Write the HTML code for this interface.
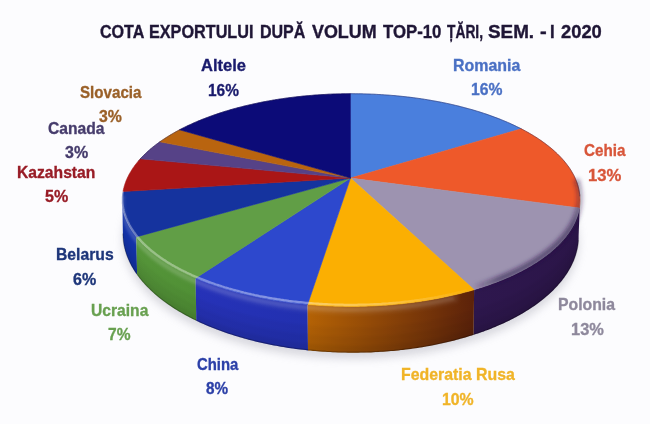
<!DOCTYPE html>
<html><head><meta charset="utf-8"><style>
html,body{margin:0;padding:0;}
body{width:650px;height:424px;overflow:hidden;background:#fcfcfe;position:relative;font-family:"Liberation Sans",sans-serif;}
svg{position:absolute;left:0;top:0;}
#w{position:absolute;left:0;top:0;width:650px;height:424px;filter:blur(0.35px);}
.ti{color:#1f1636;}
.t{position:absolute;-webkit-text-stroke:0.8px currentColor;font-weight:bold;font-size:40px;line-height:1;white-space:nowrap;transform-origin:0 0;}
</style></head><body>
<div id="w">
<svg width="650" height="424" viewBox="0 0 650 424">
<defs><filter id="bl" x="-20%" y="-20%" width="140%" height="140%"><feGaussianBlur stdDeviation="4"/></filter>
<linearGradient id="gCehia" x1="0" y1="0" x2="1" y2="0"><stop offset="0" stop-color="#c04018"/><stop offset="1" stop-color="#a03010"/></linearGradient>
<linearGradient id="gPolonia" x1="0" y1="0" x2="1" y2="0"><stop offset="0" stop-color="#2e174e"/><stop offset="1" stop-color="#2b1548"/></linearGradient>
<linearGradient id="gRusa" x1="0" y1="0" x2="1" y2="0"><stop offset="0" stop-color="#b46205"/><stop offset="1" stop-color="#5c220a"/></linearGradient>
<linearGradient id="gChina" x1="0" y1="0" x2="1" y2="0"><stop offset="0" stop-color="#2632b8"/><stop offset="1" stop-color="#2230b0"/></linearGradient>
<linearGradient id="gUcraina" x1="0" y1="0" x2="1" y2="0"><stop offset="0" stop-color="#559539"/><stop offset="1" stop-color="#509035"/></linearGradient>
<linearGradient id="gBelarus" x1="0" y1="0" x2="1" y2="0"><stop offset="0" stop-color="#1232a8"/><stop offset="1" stop-color="#1232a8"/></linearGradient>
<linearGradient id="gKazah" x1="0" y1="0" x2="1" y2="0"><stop offset="0" stop-color="#901010"/><stop offset="1" stop-color="#901010"/></linearGradient>
<linearGradient id="vsh" x1="0" y1="0" x2="0" y2="1"><stop offset="0" stop-color="#fff" stop-opacity="0.18"/><stop offset="0.25" stop-color="#fff" stop-opacity="0"/><stop offset="1" stop-color="#000" stop-opacity="0.08"/></linearGradient>
<linearGradient id="rimg" gradientUnits="userSpaceOnUse" x1="120" y1="0" x2="480" y2="0"><stop offset="0" stop-color="#fff" stop-opacity="0.32"/><stop offset="0.45" stop-color="#fff" stop-opacity="0.42"/><stop offset="0.72" stop-color="#fff" stop-opacity="0.28"/><stop offset="1" stop-color="#fff" stop-opacity="0"/></linearGradient>
<filter id="b06"><feGaussianBlur stdDeviation="0.6"/></filter><filter id="b1"><feGaussianBlur stdDeviation="1"/></filter><filter id="b15"><feGaussianBlur stdDeviation="1.5"/></filter>
<filter id="b2" x="-10%" y="-10%" width="120%" height="120%"><feGaussianBlur stdDeviation="2"/></filter>
<linearGradient id="dkg" gradientUnits="userSpaceOnUse" x1="470" y1="0" x2="585" y2="0"><stop offset="0" stop-color="#2a1446" stop-opacity="0"/><stop offset="0.25" stop-color="#2a1446" stop-opacity="0.6"/><stop offset="0.9" stop-color="#2a1446" stop-opacity="0.6"/><stop offset="1" stop-color="#2a1446" stop-opacity="0.2"/></linearGradient>
</defs>
<polygon points="573.7,217.8 575.2,221.8 576.4,225.8 577.4,229.9 578.1,234.0 578.5,238.2 578.6,242.3 578.5,246.6 578.0,250.8 577.3,255.1 576.2,259.4 574.8,263.7 573.1,268.0 571.1,272.2 568.8,276.5 566.1,280.7 563.1,285.0 559.7,289.1 556.0,293.3 552.0,297.4 547.6,301.4 542.9,305.3 537.9,309.2 532.5,313.0 526.8,316.7 520.8,320.3 514.5,323.8 507.9,327.1 500.9,330.4 493.7,333.5 486.2,336.4 478.4,339.2 470.4,341.8 462.1,344.3 453.6,346.6 444.9,348.7 436.0,350.6 426.9,352.4 417.7,353.9 408.3,355.2 398.8,356.3 389.2,357.2 379.5,357.9 369.7,358.4 360.0,358.7 350.1,358.7 340.3,358.5 330.6,358.1 320.8,357.5 311.1,356.7 301.5,355.6 292.1,354.4 282.7,352.9 273.5,351.3 264.5,349.4 255.6,347.4 246.9,345.2 238.5,342.8 230.3,340.2 222.3,337.5 214.6,334.6 207.1,331.6 199.9,328.4 193.1,325.1 186.5,321.6 180.2,318.1 174.2,314.4 168.6,310.7 163.3,306.8 158.3,302.9 153.6,298.9 149.3,294.9 145.3,290.8 141.7,286.6 138.3,282.4 135.4,278.2 132.7,273.9 130.4,269.7 128.4,265.4 126.7,261.1 125.3,256.8 124.3,252.5 123.5,248.3 123.1,244.1 122.9,239.9 123.0,235.7 123.5,231.6 124.1,227.5 125.1,223.4 126.3,219.4 127.8,215.5 350.5,238.1" fill="#c8c8d0" filter="url(#bl)" opacity="0.7"/>
<polygon points="136.3,236.9 135.5,235.9 134.8,234.9 134.1,233.9 133.4,232.9 132.7,231.9 132.0,231.0 131.4,230.0 130.8,229.0 130.2,228.0 129.6,227.0 129.1,226.0 128.6,225.0 128.1,224.0 127.6,223.0 127.1,222.0 126.7,221.0 126.3,220.0 125.9,219.0 125.5,218.0 125.1,217.0 124.8,216.0 124.5,215.0 124.2,214.0 123.9,213.1 123.7,212.1 123.5,211.1 123.2,210.1 123.1,209.1 122.9,208.1 122.7,207.1 122.6,206.1 122.5,205.1 122.4,204.2 122.3,203.2 122.3,202.2 122.3,201.2 122.3,200.2 122.9,234.0 122.9,235.1 123.0,236.2 123.0,237.3 123.1,238.3 123.2,239.4 123.3,240.5 123.4,241.6 123.6,242.7 123.7,243.8 123.9,244.9 124.1,246.0 124.4,247.1 124.6,248.2 124.9,249.3 125.2,250.4 125.5,251.5 125.9,252.6 126.2,253.7 126.6,254.8 127.0,255.9 127.4,257.0 127.8,258.1 128.3,259.2 128.8,260.3 129.3,261.4 129.8,262.5 130.4,263.7 130.9,264.8 131.5,265.9 132.1,267.0 132.8,268.1 133.4,269.2 134.1,270.3 134.8,271.4 135.5,272.4 136.3,273.5 137.1,274.6" fill="url(#gBelarus)"/>
<polygon points="580.0,199.9 580.0,200.9 579.9,201.8 579.9,202.8 579.8,203.8 579.7,204.8 579.6,205.7 579.5,206.7 579.4,207.7 579.2,208.7 579.0,209.7 578.8,210.6 578.6,211.6 578.3,212.6 578.1,213.6 577.8,214.6 577.5,215.6 577.2,216.6 576.8,217.5 576.4,218.5 576.0,219.5 575.6,220.5 575.2,221.5 574.8,222.5 574.3,223.5 573.8,224.4 573.3,225.4 572.7,226.4 572.2,227.4 571.6,228.4 571.0,229.4 570.4,230.4 569.8,231.3 569.1,232.3 568.4,233.3 567.7,234.3 567.0,235.2 566.2,236.2 565.4,237.2 564.7,238.2 563.8,239.1 563.0,240.1 562.1,241.1 561.3,242.0 560.4,243.0 559.4,243.9 558.5,244.9 557.5,245.9 556.5,246.8 555.5,247.8 554.5,248.7 553.4,249.6 552.4,250.6 551.3,251.5 550.1,252.4 549.0,253.4 547.8,254.3 546.6,255.2 545.4,256.1 544.2,257.0 542.9,257.9 541.7,258.8 540.4,259.7 539.1,260.6 537.7,261.5 536.4,262.4 535.0,263.3 533.6,264.1 532.2,265.0 530.7,265.9 529.2,266.7 527.8,267.6 526.3,268.4 524.7,269.2 523.2,270.1 521.6,270.9 520.0,271.7 518.4,272.5 516.8,273.3 515.1,274.1 513.5,274.9 511.8,275.7 510.1,276.5 508.3,277.2 506.6,278.0 504.8,278.7 503.0,279.5 501.2,280.2 499.4,281.0 497.6,281.7 495.7,282.4 493.8,283.1 491.9,283.8 490.0,284.5 488.1,285.2 486.1,285.8 484.1,286.5 482.2,287.2 480.2,287.8 478.1,288.4 476.1,289.1 474.1,289.7 473.6,334.8 475.7,334.1 477.7,333.5 479.7,332.8 481.7,332.1 483.7,331.4 485.6,330.6 487.6,329.9 489.5,329.2 491.4,328.4 493.3,327.6 495.1,326.9 497.0,326.1 498.8,325.3 500.6,324.5 502.4,323.7 504.2,322.9 506.0,322.1 507.7,321.2 509.4,320.4 511.1,319.5 512.8,318.7 514.5,317.8 516.1,316.9 517.7,316.0 519.3,315.2 520.9,314.3 522.4,313.4 524.0,312.4 525.5,311.5 527.0,310.6 528.5,309.7 529.9,308.7 531.4,307.8 532.8,306.8 534.2,305.9 535.5,304.9 536.9,303.9 538.2,303.0 539.5,302.0 540.8,301.0 542.1,300.0 543.3,299.0 544.5,298.0 545.7,297.0 546.9,296.0 548.1,295.0 549.2,294.0 550.3,293.0 551.4,291.9 552.5,290.9 553.5,289.9 554.5,288.8 555.5,287.8 556.5,286.7 557.5,285.7 558.4,284.6 559.3,283.6 560.2,282.5 561.1,281.5 562.0,280.4 562.8,279.3 563.6,278.3 564.4,277.2 565.1,276.1 565.9,275.0 566.6,274.0 567.3,272.9 568.0,271.8 568.6,270.7 569.3,269.6 569.9,268.6 570.5,267.5 571.0,266.4 571.6,265.3 572.1,264.2 572.6,263.1 573.1,262.0 573.6,260.9 574.0,259.9 574.4,258.8 574.8,257.7 575.2,256.6 575.6,255.5 575.9,254.4 576.2,253.3 576.5,252.2 576.8,251.1 577.1,250.0 577.3,249.0 577.5,247.9 577.7,246.8 577.9,245.7 578.1,244.6 578.2,243.5 578.3,242.4 578.4,241.4 578.5,240.3 578.6,239.2 578.6,238.1 578.6,237.1 578.6,236.0" fill="url(#gPolonia)"/>
<polygon points="195.6,278.2 193.8,277.4 192.1,276.6 190.3,275.9 188.6,275.1 186.9,274.3 185.3,273.5 183.6,272.6 182.0,271.8 180.4,271.0 178.8,270.2 177.2,269.3 175.7,268.5 174.2,267.6 172.7,266.8 171.2,265.9 169.7,265.0 168.3,264.2 166.9,263.3 165.5,262.4 164.1,261.5 162.8,260.6 161.4,259.7 160.1,258.8 158.8,257.9 157.6,257.0 156.3,256.0 155.1,255.1 153.9,254.2 152.8,253.2 151.6,252.3 150.5,251.4 149.4,250.4 148.3,249.5 147.2,248.5 146.2,247.6 145.2,246.6 144.2,245.6 143.2,244.7 142.3,243.7 141.4,242.7 140.5,241.8 139.6,240.8 138.7,239.8 137.9,238.8 137.1,237.9 136.3,236.9 137.1,274.6 137.8,275.7 138.7,276.8 139.5,277.9 140.4,279.0 141.2,280.1 142.1,281.2 143.1,282.2 144.0,283.3 145.0,284.4 146.0,285.5 147.0,286.5 148.0,287.6 149.1,288.6 150.2,289.7 151.3,290.7 152.4,291.8 153.5,292.8 154.7,293.9 155.9,294.9 157.1,295.9 158.4,297.0 159.6,298.0 160.9,299.0 162.2,300.0 163.5,301.0 164.9,302.0 166.2,303.0 167.6,304.0 169.0,305.0 170.5,306.0 171.9,306.9 173.4,307.9 174.9,308.9 176.4,309.8 178.0,310.8 179.5,311.7 181.1,312.6 182.7,313.6 184.4,314.5 186.0,315.4 187.7,316.3 189.4,317.2 191.1,318.1 192.8,318.9 194.6,319.8 196.3,320.7" fill="url(#gUcraina)"/>
<polygon points="307.6,304.5 305.1,304.3 302.7,304.0 300.2,303.8 297.7,303.5 295.3,303.2 292.8,302.9 290.3,302.6 287.9,302.3 285.5,302.0 283.1,301.6 280.7,301.3 278.3,300.9 275.9,300.5 273.5,300.2 271.1,299.8 268.8,299.3 266.4,298.9 264.1,298.5 261.8,298.0 259.5,297.6 257.2,297.1 254.9,296.6 252.6,296.1 250.4,295.6 248.1,295.1 245.9,294.6 243.7,294.0 241.5,293.5 239.3,292.9 237.1,292.4 235.0,291.8 232.9,291.2 230.7,290.6 228.6,290.0 226.5,289.4 224.5,288.7 222.4,288.1 220.4,287.4 218.4,286.8 216.4,286.1 214.4,285.4 212.4,284.8 210.5,284.1 208.6,283.4 206.6,282.6 204.8,281.9 202.9,281.2 201.0,280.5 199.2,279.7 197.4,279.0 195.6,278.2 196.3,320.7 198.1,321.5 199.9,322.4 201.7,323.2 203.6,324.0 205.5,324.9 207.3,325.7 209.2,326.5 211.2,327.2 213.1,328.0 215.1,328.8 217.0,329.6 219.0,330.3 221.1,331.0 223.1,331.8 225.1,332.5 227.2,333.2 229.3,333.9 231.4,334.6 233.5,335.3 235.6,335.9 237.8,336.6 239.9,337.2 242.1,337.8 244.3,338.5 246.5,339.1 248.7,339.7 250.9,340.2 253.2,340.8 255.4,341.4 257.7,341.9 260.0,342.5 262.3,343.0 264.6,343.5 266.9,344.0 269.3,344.5 271.6,344.9 274.0,345.4 276.4,345.8 278.7,346.3 281.1,346.7 283.5,347.1 285.9,347.5 288.4,347.9 290.8,348.2 293.2,348.6 295.7,348.9 298.1,349.2 300.6,349.5 303.1,349.8 305.5,350.1 308.0,350.4" fill="url(#gChina)"/>
<polygon points="474.1,289.7 472.0,290.3 469.9,290.9 467.7,291.5 465.6,292.1 463.5,292.6 461.3,293.2 459.1,293.8 456.9,294.3 454.7,294.8 452.5,295.3 450.2,295.8 448.0,296.3 445.7,296.8 443.4,297.3 441.1,297.8 438.8,298.2 436.5,298.7 434.2,299.1 431.9,299.5 429.5,299.9 427.1,300.3 424.8,300.7 422.4,301.1 420.0,301.4 417.6,301.8 415.2,302.1 412.8,302.4 410.3,302.7 407.9,303.0 405.5,303.3 403.0,303.6 400.5,303.9 398.1,304.1 395.6,304.3 393.1,304.6 390.6,304.8 388.2,305.0 385.7,305.2 383.2,305.3 380.6,305.5 378.1,305.6 375.6,305.8 373.1,305.9 370.6,306.0 368.1,306.1 365.5,306.2 363.0,306.3 360.5,306.3 358.0,306.4 355.4,306.4 352.9,306.4 350.4,306.4 347.8,306.4 345.3,306.4 342.8,306.3 340.2,306.3 337.7,306.2 335.2,306.2 332.7,306.1 330.1,306.0 327.6,305.9 325.1,305.7 322.6,305.6 320.1,305.4 317.6,305.3 315.1,305.1 312.6,304.9 310.1,304.7 307.6,304.5 308.0,350.4 310.5,350.6 313.0,350.9 315.4,351.1 317.9,351.3 320.4,351.5 322.9,351.7 325.4,351.8 327.9,352.0 330.4,352.1 332.9,352.2 335.4,352.3 338.0,352.4 340.5,352.5 343.0,352.6 345.5,352.6 348.0,352.7 350.6,352.7 353.1,352.7 355.6,352.7 358.1,352.7 360.6,352.6 363.2,352.6 365.7,352.5 368.2,352.5 370.7,352.4 373.2,352.3 375.7,352.1 378.2,352.0 380.7,351.8 383.2,351.7 385.7,351.5 388.2,351.3 390.7,351.1 393.1,350.9 395.6,350.7 398.1,350.4 400.5,350.1 403.0,349.9 405.4,349.6 407.8,349.3 410.3,349.0 412.7,348.6 415.1,348.3 417.5,347.9 419.9,347.5 422.3,347.2 424.6,346.8 427.0,346.3 429.3,345.9 431.7,345.5 434.0,345.0 436.3,344.6 438.6,344.1 440.9,343.6 443.2,343.1 445.5,342.6 447.7,342.1 449.9,341.5 452.2,341.0 454.4,340.4 456.6,339.8 458.8,339.2 460.9,338.6 463.1,338.0 465.2,337.4 467.4,336.8 469.5,336.1 471.6,335.5 473.6,334.8" fill="url(#gRusa)"/>
<clipPath id="sc"><polygon points="578.8,189.0 579.0,189.9 579.1,190.8 579.3,191.7 579.4,192.7 579.6,193.6 579.7,194.5 579.8,195.4 579.8,196.4 579.9,197.3 579.9,198.3 580.0,199.2 580.0,200.1 580.0,201.1 579.9,202.0 579.9,203.0 579.8,203.9 579.7,204.9 579.6,205.8 579.5,206.8 579.4,207.7 579.2,208.7 579.0,209.6 578.8,210.6 578.6,211.6 578.4,212.5 578.1,213.5 577.8,214.4 577.5,215.4 577.2,216.3 576.9,217.3 576.5,218.3 576.2,219.2 575.8,220.2 575.4,221.2 574.9,222.1 574.5,223.1 574.0,224.0 573.5,225.0 573.0,226.0 572.5,226.9 571.9,227.9 571.3,228.8 570.7,229.8 570.1,230.8 569.5,231.7 568.8,232.7 568.2,233.6 567.5,234.6 566.8,235.5 566.0,236.5 565.3,237.4 564.5,238.4 563.7,239.3 562.9,240.3 562.0,241.2 561.2,242.1 560.3,243.1 559.4,244.0 558.5,244.9 557.5,245.9 556.6,246.8 555.6,247.7 554.6,248.6 553.5,249.5 552.5,250.5 551.4,251.4 550.3,252.3 549.2,253.2 548.1,254.1 546.9,255.0 545.8,255.9 544.6,256.7 543.4,257.6 542.1,258.5 540.9,259.4 539.6,260.2 538.3,261.1 537.0,262.0 535.7,262.8 534.3,263.7 532.9,264.5 531.5,265.4 530.1,266.2 528.7,267.0 527.2,267.9 525.7,268.7 524.3,269.5 522.7,270.3 521.2,271.1 519.7,271.9 518.1,272.7 516.5,273.5 514.9,274.2 513.2,275.0 511.6,275.8 509.9,276.5 508.2,277.3 506.5,278.0 504.8,278.7 503.1,279.5 501.3,280.2 499.5,280.9 497.7,281.6 495.9,282.3 494.1,283.0 492.3,283.7 490.4,284.3 488.5,285.0 486.6,285.7 484.7,286.3 482.8,287.0 480.8,287.6 478.9,288.2 476.9,288.8 474.9,289.4 472.9,290.0 470.9,290.6 468.8,291.2 466.8,291.7 464.7,292.3 462.6,292.9 460.5,293.4 458.4,293.9 456.3,294.4 454.2,294.9 452.0,295.4 449.9,295.9 447.7,296.4 445.5,296.9 443.3,297.3 441.1,297.8 438.9,298.2 436.6,298.6 434.4,299.1 432.1,299.5 429.9,299.9 427.6,300.2 425.3,300.6 423.0,301.0 420.7,301.3 418.4,301.7 416.1,302.0 413.7,302.3 411.4,302.6 409.0,302.9 406.7,303.2 404.3,303.5 402.0,303.7 399.6,304.0 397.2,304.2 394.8,304.4 392.4,304.6 390.0,304.8 387.6,305.0 385.2,305.2 382.8,305.4 380.4,305.5 378.0,305.7 375.5,305.8 373.1,305.9 370.7,306.0 368.2,306.1 365.8,306.2 363.4,306.2 360.9,306.3 358.5,306.3 356.1,306.4 353.6,306.4 351.2,306.4 348.7,306.4 346.3,306.4 343.8,306.4 341.4,306.3 339.0,306.3 336.5,306.2 334.1,306.1 331.7,306.0 329.2,305.9 326.8,305.8 324.4,305.7 322.0,305.6 319.5,305.4 317.1,305.3 314.7,305.1 312.3,304.9 309.9,304.7 307.5,304.5 305.1,304.3 302.8,304.0 300.4,303.8 298.0,303.5 295.7,303.3 293.3,303.0 291.0,302.7 288.6,302.4 286.3,302.1 284.0,301.8 281.7,301.4 279.4,301.1 277.1,300.7 274.8,300.4 272.5,300.0 270.3,299.6 268.0,299.2 265.8,298.8 263.5,298.4 261.3,297.9 259.1,297.5 256.9,297.0 254.7,296.6 252.6,296.1 250.4,295.6 248.2,295.1 246.1,294.6 244.0,294.1 241.9,293.6 239.8,293.1 237.7,292.5 235.7,292.0 233.6,291.4 231.6,290.8 229.5,290.3 227.5,289.7 225.6,289.1 223.6,288.5 221.6,287.8 219.7,287.2 217.8,286.6 215.8,285.9 213.9,285.3 212.1,284.6 210.2,284.0 208.4,283.3 206.5,282.6 204.7,281.9 202.9,281.2 201.2,280.5 199.4,279.8 197.7,279.1 196.0,278.3 194.2,277.6 192.6,276.9 190.9,276.1 189.3,275.4 187.6,274.6 186.0,273.8 184.4,273.1 182.9,272.3 181.3,271.5 179.8,270.7 178.3,269.9 176.8,269.1 175.3,268.3 173.8,267.4 172.4,266.6 171.0,265.8 169.6,265.0 168.2,264.1 166.9,263.3 165.5,262.4 164.2,261.6 162.9,260.7 161.6,259.8 160.4,259.0 159.2,258.1 157.9,257.2 156.8,256.3 155.6,255.5 154.4,254.6 153.3,253.7 152.2,252.8 151.1,251.9 150.0,251.0 149.0,250.1 147.9,249.2 146.9,248.2 146.0,247.3 145.0,246.4 144.0,245.5 143.1,244.6 142.2,243.6 141.3,242.7 140.5,241.8 139.6,240.8 138.8,239.9 138.0,239.0 137.2,238.0 136.5,237.1 135.7,236.1 135.0,235.2 134.3,234.3 133.6,233.3 133.0,232.4 132.3,231.4 131.7,230.5 131.1,229.5 130.5,228.6 130.0,227.6 129.4,226.6 128.9,225.7 128.4,224.7 127.9,223.8 127.5,222.8 127.0,221.9 126.6,220.9 126.2,220.0 125.9,219.0 125.5,218.0 125.2,217.1 124.8,216.1 124.5,215.2 124.2,214.2 124.0,213.3 123.7,212.3 123.5,211.4 123.3,210.4 123.1,209.4 123.0,208.5 122.8,207.6 122.7,206.6 122.6,205.7 122.5,204.7 122.4,203.8 122.3,202.8 122.3,201.9 122.3,200.9 122.3,200.0 122.3,199.1 122.3,198.1 122.4,197.2 122.4,196.3 122.5,195.3 122.6,194.4 122.7,193.5 122.9,192.6 123.0,191.6 123.2,190.7 123.4,189.8 123.6,188.9 124.1,221.5 124.0,222.5 123.8,223.5 123.6,224.5 123.5,225.5 123.3,226.5 123.2,227.6 123.1,228.6 123.0,229.6 123.0,230.6 122.9,231.7 122.9,232.7 122.9,233.7 122.9,234.8 122.9,235.8 123.0,236.9 123.1,237.9 123.1,239.0 123.2,240.0 123.3,241.1 123.5,242.1 123.6,243.2 123.8,244.2 124.0,245.3 124.2,246.3 124.4,247.4 124.7,248.4 125.0,249.5 125.2,250.5 125.5,251.6 125.9,252.7 126.2,253.7 126.6,254.8 127.0,255.8 127.4,256.9 127.8,258.0 128.2,259.0 128.7,260.1 129.2,261.2 129.7,262.2 130.2,263.3 130.7,264.3 131.3,265.4 131.9,266.4 132.5,267.5 133.1,268.6 133.7,269.6 134.4,270.7 135.1,271.7 135.8,272.8 136.5,273.8 137.2,274.9 138.0,275.9 138.8,277.0 139.6,278.0 140.4,279.0 141.2,280.1 142.1,281.1 143.0,282.2 143.9,283.2 144.8,284.2 145.8,285.2 146.7,286.3 147.7,287.3 148.7,288.3 149.8,289.3 150.8,290.3 151.9,291.3 153.0,292.3 154.1,293.3 155.2,294.3 156.4,295.3 157.5,296.3 158.7,297.3 159.9,298.2 161.2,299.2 162.4,300.2 163.7,301.2 165.0,302.1 166.3,303.1 167.6,304.0 169.0,305.0 170.4,305.9 171.8,306.8 173.2,307.7 174.6,308.7 176.1,309.6 177.5,310.5 179.0,311.4 180.5,312.3 182.1,313.2 183.6,314.1 185.2,314.9 186.8,315.8 188.4,316.7 190.0,317.5 191.6,318.4 193.3,319.2 195.0,320.0 196.7,320.8 198.4,321.7 200.1,322.5 201.9,323.3 203.6,324.1 205.4,324.8 207.2,325.6 209.1,326.4 210.9,327.1 212.8,327.9 214.6,328.6 216.5,329.4 218.4,330.1 220.3,330.8 222.3,331.5 224.2,332.2 226.2,332.9 228.2,333.5 230.2,334.2 232.2,334.8 234.2,335.5 236.3,336.1 238.3,336.7 240.4,337.4 242.5,338.0 244.6,338.5 246.7,339.1 248.8,339.7 251.0,340.3 253.1,340.8 255.3,341.3 257.5,341.9 259.6,342.4 261.8,342.9 264.1,343.4 266.3,343.8 268.5,344.3 270.8,344.8 273.0,345.2 275.3,345.6 277.6,346.1 279.8,346.5 282.1,346.9 284.4,347.2 286.8,347.6 289.1,348.0 291.4,348.3 293.7,348.6 296.1,349.0 298.4,349.3 300.8,349.6 303.2,349.8 305.5,350.1 307.9,350.4 310.3,350.6 312.7,350.8 315.1,351.0 317.5,351.3 319.9,351.4 322.3,351.6 324.7,351.8 327.1,351.9 329.5,352.1 331.9,352.2 334.4,352.3 336.8,352.4 339.2,352.5 341.6,352.6 344.1,352.6 346.5,352.7 348.9,352.7 351.4,352.7 353.8,352.7 356.2,352.7 358.7,352.7 361.1,352.6 363.5,352.6 365.9,352.5 368.4,352.4 370.8,352.4 373.2,352.3 375.6,352.1 378.0,352.0 380.4,351.9 382.9,351.7 385.3,351.5 387.7,351.4 390.0,351.2 392.4,351.0 394.8,350.7 397.2,350.5 399.6,350.2 401.9,350.0 404.3,349.7 406.6,349.4 409.0,349.1 411.3,348.8 413.6,348.5 416.0,348.1 418.3,347.8 420.6,347.4 422.9,347.1 425.1,346.7 427.4,346.3 429.7,345.9 431.9,345.4 434.2,345.0 436.4,344.6 438.6,344.1 440.8,343.6 443.0,343.1 445.2,342.6 447.4,342.1 449.6,341.6 451.7,341.1 453.9,340.5 456.0,340.0 458.1,339.4 460.2,338.9 462.3,338.3 464.3,337.7 466.4,337.1 468.4,336.5 470.5,335.8 472.5,335.2 474.5,334.5 476.5,333.9 478.4,333.2 480.4,332.5 482.3,331.8 484.2,331.1 486.1,330.4 488.0,329.7 489.9,329.0 491.7,328.3 493.6,327.5 495.4,326.8 497.2,326.0 499.0,325.2 500.7,324.5 502.5,323.7 504.2,322.9 505.9,322.1 507.6,321.3 509.3,320.4 510.9,319.6 512.6,318.8 514.2,317.9 515.8,317.1 517.4,316.2 518.9,315.4 520.5,314.5 522.0,313.6 523.5,312.7 525.0,311.8 526.5,310.9 527.9,310.0 529.3,309.1 530.7,308.2 532.1,307.3 533.5,306.3 534.8,305.4 536.2,304.5 537.5,303.5 538.8,302.6 540.0,301.6 541.3,300.7 542.5,299.7 543.7,298.7 544.9,297.7 546.0,296.8 547.2,295.8 548.3,294.8 549.4,293.8 550.5,292.8 551.5,291.8 552.6,290.8 553.6,289.8 554.6,288.8 555.6,287.8 556.5,286.7 557.5,285.7 558.4,284.7 559.3,283.7 560.1,282.6 561.0,281.6 561.8,280.6 562.6,279.5 563.4,278.5 564.2,277.4 564.9,276.4 565.7,275.3 566.4,274.3 567.1,273.2 567.7,272.2 568.4,271.1 569.0,270.1 569.6,269.0 570.2,268.0 570.8,266.9 571.3,265.9 571.8,264.8 572.3,263.7 572.8,262.7 573.3,261.6 573.7,260.5 574.2,259.5 574.6,258.4 574.9,257.4 575.3,256.3 575.7,255.2 576.0,254.2 576.3,253.1 576.6,252.1 576.9,251.0 577.1,249.9 577.3,248.9 577.5,247.8 577.7,246.8 577.9,245.7 578.1,244.6 578.2,243.6 578.3,242.5 578.4,241.5 578.5,240.4 578.6,239.4 578.6,238.3 578.6,237.3 578.6,236.2 578.6,235.2 578.6,234.2 578.6,233.1 578.5,232.1 578.4,231.0 578.3,230.0 578.2,229.0 578.1,228.0 577.9,226.9 577.8,225.9 577.6,224.9 577.4,223.9"/></clipPath>
<g clip-path="url(#sc)"><g filter="url(#b15)"><polygon points="458.2,294.0 456.3,294.4 454.4,294.9 452.4,295.3 450.5,295.8 448.5,296.2 446.6,296.7 444.6,297.1 442.6,297.5 440.6,297.9 438.6,298.3 436.6,298.7 434.5,299.0 432.5,299.4 430.5,299.8 428.4,300.1 426.3,300.4 424.3,300.8 422.2,301.1 420.1,301.4 418.0,301.7 415.9,302.0 413.8,302.3 411.7,302.6 409.6,302.8 407.5,303.1 405.3,303.3 403.2,303.6 401.1,303.8 398.9,304.0 396.8,304.2 394.6,304.4 392.4,304.6 390.3,304.8 388.1,305.0 385.9,305.1 383.7,305.3 381.6,305.4 379.4,305.6 377.2,305.7 375.0,305.8 372.8,305.9 370.6,306.0 368.4,306.1 366.2,306.2 364.0,306.2 361.8,306.3 359.6,306.3 357.4,306.4 355.2,306.4 353.0,306.4 350.8,306.4 348.6,306.4 346.4,306.4 344.2,306.4 341.9,306.3 339.7,306.3 337.5,306.2 335.3,306.2 333.1,306.1 330.9,306.0 328.8,305.9 326.6,305.8 324.4,305.7 322.2,305.6 320.0,305.4 317.8,305.3 315.6,305.1 313.5,305.0 311.3,304.8 309.1,304.6 307.0,304.4 304.8,304.2 302.7,304.0 300.5,303.8 298.4,303.6 296.3,303.3 294.1,303.1 292.0,302.8 289.9,302.6 287.8,302.3 285.7,302.0 283.6,301.7 281.5,301.4 279.4,301.1 277.4,300.8 275.3,300.5 273.2,300.1 271.2,299.8 269.1,299.4 267.1,299.0 265.1,298.7 263.1,298.3 261.1,297.9 259.1,297.5 257.1,297.1 255.1,296.7 253.2,296.2 251.2,295.8 249.3,295.4 247.3,294.9 245.4,294.5 243.5,294.0 241.6,293.5 239.7,293.0 237.8,292.5 236.0,292.0 234.1,291.5 232.3,291.0 230.4,290.5 228.6,290.0 226.8,289.4 225.0,288.9 223.2,288.4 221.5,287.8 219.7,287.2 218.0,286.7 216.2,286.1 214.5,285.5 212.8,284.9 211.1,284.3 209.5,283.7 207.8,283.1 206.2,282.5 204.5,281.8 202.9,281.2 201.3,280.6 199.7,279.9 198.2,279.3 196.6,278.6 195.0,278.0 193.5,277.3 192.0,276.6 190.5,275.9 189.0,275.3 187.5,274.6 186.1,273.9 184.7,273.2 183.2,272.5 181.8,271.7 180.4,271.0 179.1,270.3 177.7,269.6 176.4,268.9 175.0,268.1 173.7,267.4 172.4,266.6 171.1,265.9 169.9,265.1 168.6,264.4 167.4,263.6 166.2,262.8 165.0,262.1 163.8,261.3 162.6,260.5 161.5,259.7 160.4,259.0 159.3,258.2 158.2,257.4 157.1,256.6 156.0,255.8 155.0,255.0 153.9,254.2 152.9,253.4 151.9,252.6 150.9,251.7 150.0,250.9 149.0,250.1 148.1,249.3 147.2,248.5 146.3,247.6 145.4,246.8 144.5,246.0 143.7,245.1 142.9,244.3 142.0,243.5 141.3,242.6 140.5,241.8 139.7,240.9 139.0,240.1 138.2,239.3 137.5,238.4 136.8,237.6 136.2,236.7 135.5,235.9 134.8,235.0 134.2,234.1 133.6,233.3 133.0,232.4 132.4,231.6 131.9,230.7 131.3,229.9 130.8,229.0 130.3,228.1 129.8,227.3 129.3,226.4 128.8,225.5 128.4,224.7 128.0,223.8 127.5,223.0 127.1,222.1 126.8,221.2 126.4,220.4 126.0,219.5 125.7,218.6 125.4,217.8 125.1,216.9 124.8,216.0 124.5,215.2 124.3,214.3 124.0,213.4 123.8,212.6 123.6,211.7 123.4,210.9 123.2,210.0 123.1,209.1 122.9,208.3 122.8,207.4 122.7,206.6 122.6,205.7 122.5,204.9 122.4,204.0 122.3,203.2 122.3,202.3 122.3,201.5 122.3,200.6 122.3,199.8 122.3,198.9 122.3,198.1 122.4,197.2 122.4,196.4 122.5,195.5 122.6,194.7 122.7,193.9 122.8,193.0 122.9,192.2 123.1,191.4 123.2,190.5 123.4,189.7 123.6,188.9 123.6,191.5 123.4,192.3 123.3,193.2 123.1,194.0 123.0,194.8 122.8,195.7 122.7,196.5 122.6,197.4 122.5,198.2 122.5,199.1 122.4,199.9 122.4,200.8 122.3,201.6 122.3,202.5 122.3,203.3 122.3,204.2 122.4,205.0 122.4,205.9 122.5,206.7 122.5,207.6 122.6,208.5 122.7,209.3 122.8,210.2 123.0,211.1 123.1,211.9 123.3,212.8 123.5,213.7 123.7,214.5 123.9,215.4 124.1,216.3 124.3,217.1 124.6,218.0 124.9,218.9 125.1,219.7 125.5,220.6 125.8,221.5 126.1,222.4 126.5,223.2 126.8,224.1 127.2,225.0 127.6,225.8 128.0,226.7 128.5,227.6 128.9,228.5 129.4,229.3 129.8,230.2 130.3,231.1 130.9,231.9 131.4,232.8 131.9,233.7 132.5,234.5 133.1,235.4 133.7,236.3 134.3,237.1 134.9,238.0 135.5,238.9 136.2,239.7 136.9,240.6 137.6,241.4 138.3,242.3 139.0,243.2 139.8,244.0 140.5,244.9 141.3,245.7 142.1,246.6 142.9,247.4 143.8,248.2 144.6,249.1 145.5,249.9 146.3,250.8 147.2,251.6 148.2,252.4 149.1,253.3 150.0,254.1 151.0,254.9 152.0,255.7 153.0,256.5 154.0,257.4 155.0,258.2 156.1,259.0 157.1,259.8 158.2,260.6 159.3,261.4 160.4,262.2 161.6,263.0 162.7,263.8 163.9,264.5 165.1,265.3 166.3,266.1 167.5,266.9 168.7,267.6 169.9,268.4 171.2,269.2 172.5,269.9 173.8,270.7 175.1,271.4 176.4,272.2 177.8,272.9 179.1,273.6 180.5,274.4 181.9,275.1 183.3,275.8 184.7,276.5 186.2,277.2 187.6,277.9 189.1,278.6 190.6,279.3 192.1,280.0 193.6,280.7 195.1,281.4 196.6,282.0 198.2,282.7 199.8,283.3 201.4,284.0 203.0,284.6 204.6,285.3 206.2,285.9 207.9,286.5 209.5,287.1 211.2,287.8 212.9,288.4 214.6,289.0 216.3,289.6 218.0,290.1 219.8,290.7 221.5,291.3 223.3,291.8 225.1,292.4 226.9,293.0 228.7,293.5 230.5,294.0 232.3,294.6 234.2,295.1 236.0,295.6 237.9,296.1 239.8,296.6 241.6,297.1 243.5,297.5 245.5,298.0 247.4,298.5 249.3,298.9 251.3,299.4 253.2,299.8 255.2,300.3 257.1,300.7 259.1,301.1 261.1,301.5 263.1,301.9 265.1,302.3 267.2,302.7 269.2,303.0 271.2,303.4 273.3,303.7 275.3,304.1 277.4,304.4 279.5,304.7 281.5,305.1 283.6,305.4 285.7,305.7 287.8,305.9 289.9,306.2 292.0,306.5 294.2,306.8 296.3,307.0 298.4,307.2 300.6,307.5 302.7,307.7 304.9,307.9 307.0,308.1 309.2,308.3 311.3,308.5 313.5,308.7 315.7,308.8 317.8,309.0 320.0,309.1 322.2,309.3 324.4,309.4 326.6,309.5 328.8,309.6 331.0,309.7 333.2,309.8 335.4,309.9 337.6,309.9 339.8,310.0 342.0,310.0 344.2,310.1 346.4,310.1 348.6,310.1 350.8,310.1 353.0,310.1 355.2,310.1 357.4,310.1 359.6,310.0 361.8,310.0 364.0,309.9 366.2,309.9 368.4,309.8 370.6,309.7 372.8,309.6 375.0,309.5 377.2,309.4 379.4,309.3 381.6,309.2 383.7,309.0 385.9,308.9 388.1,308.7 390.3,308.5 392.4,308.3 394.6,308.1 396.8,307.9 398.9,307.7 401.0,307.5 403.2,307.3 405.3,307.0 407.5,306.8 409.6,306.5 411.7,306.3 413.8,306.0 415.9,305.7 418.0,305.4 420.1,305.1 422.2,304.8 424.3,304.5 426.3,304.1 428.4,303.8 430.4,303.4 432.5,303.1 434.5,302.7 436.6,302.3 438.6,301.9 440.6,301.5 442.6,301.1 444.6,300.7 446.5,300.3 448.5,299.9 450.5,299.4 452.4,299.0 454.4,298.5 456.3,298.1 458.2,297.6" fill="#fff" fill-opacity="0.08"/><polygon points="458.2,297.6 456.3,298.1 454.4,298.5 452.4,299.0 450.5,299.4 448.5,299.9 446.5,300.3 444.6,300.7 442.6,301.1 440.6,301.5 438.6,301.9 436.6,302.3 434.5,302.7 432.5,303.1 430.4,303.4 428.4,303.8 426.3,304.1 424.3,304.5 422.2,304.8 420.1,305.1 418.0,305.4 415.9,305.7 413.8,306.0 411.7,306.3 409.6,306.5 407.5,306.8 405.3,307.0 403.2,307.3 401.0,307.5 398.9,307.7 396.8,307.9 394.6,308.1 392.4,308.3 390.3,308.5 388.1,308.7 385.9,308.9 383.7,309.0 381.6,309.2 379.4,309.3 377.2,309.4 375.0,309.5 372.8,309.6 370.6,309.7 368.4,309.8 366.2,309.9 364.0,309.9 361.8,310.0 359.6,310.0 357.4,310.1 355.2,310.1 353.0,310.1 350.8,310.1 348.6,310.1 346.4,310.1 344.2,310.1 342.0,310.0 339.8,310.0 337.6,309.9 335.4,309.9 333.2,309.8 331.0,309.7 328.8,309.6 326.6,309.5 324.4,309.4 322.2,309.3 320.0,309.1 317.8,309.0 315.7,308.8 313.5,308.7 311.3,308.5 309.2,308.3 307.0,308.1 304.9,307.9 302.7,307.7 300.6,307.5 298.4,307.2 296.3,307.0 294.2,306.8 292.0,306.5 289.9,306.2 287.8,305.9 285.7,305.7 283.6,305.4 281.5,305.1 279.5,304.7 277.4,304.4 275.3,304.1 273.3,303.7 271.2,303.4 269.2,303.0 267.2,302.7 265.1,302.3 263.1,301.9 261.1,301.5 259.1,301.1 257.1,300.7 255.2,300.3 253.2,299.8 251.3,299.4 249.3,298.9 247.4,298.5 245.5,298.0 243.5,297.5 241.6,297.1 239.8,296.6 237.9,296.1 236.0,295.6 234.2,295.1 232.3,294.6 230.5,294.0 228.7,293.5 226.9,293.0 225.1,292.4 223.3,291.8 221.5,291.3 219.8,290.7 218.0,290.1 216.3,289.6 214.6,289.0 212.9,288.4 211.2,287.8 209.5,287.1 207.9,286.5 206.2,285.9 204.6,285.3 203.0,284.6 201.4,284.0 199.8,283.3 198.2,282.7 196.6,282.0 195.1,281.4 193.6,280.7 192.1,280.0 190.6,279.3 189.1,278.6 187.6,277.9 186.2,277.2 184.7,276.5 183.3,275.8 181.9,275.1 180.5,274.4 179.1,273.6 177.8,272.9 176.4,272.2 175.1,271.4 173.8,270.7 172.5,269.9 171.2,269.2 169.9,268.4 168.7,267.6 167.5,266.9 166.3,266.1 165.1,265.3 163.9,264.5 162.7,263.8 161.6,263.0 160.4,262.2 159.3,261.4 158.2,260.6 157.1,259.8 156.1,259.0 155.0,258.2 154.0,257.4 153.0,256.5 152.0,255.7 151.0,254.9 150.0,254.1 149.1,253.3 148.2,252.4 147.2,251.6 146.3,250.8 145.5,249.9 144.6,249.1 143.8,248.2 142.9,247.4 142.1,246.6 141.3,245.7 140.5,244.9 139.8,244.0 139.0,243.2 138.3,242.3 137.6,241.4 136.9,240.6 136.2,239.7 135.5,238.9 134.9,238.0 134.3,237.1 133.7,236.3 133.1,235.4 132.5,234.5 131.9,233.7 131.4,232.8 130.9,231.9 130.3,231.1 129.8,230.2 129.4,229.3 128.9,228.5 128.5,227.6 128.0,226.7 127.6,225.8 127.2,225.0 126.8,224.1 126.5,223.2 126.1,222.4 125.8,221.5 125.5,220.6 125.1,219.7 124.9,218.9 124.6,218.0 124.3,217.1 124.1,216.3 123.9,215.4 123.7,214.5 123.5,213.7 123.3,212.8 123.1,211.9 123.0,211.1 122.8,210.2 122.7,209.3 122.6,208.5 122.5,207.6 122.5,206.7 122.4,205.9 122.4,205.0 122.3,204.2 122.3,203.3 122.3,202.5 122.3,201.6 122.4,200.8 122.4,199.9 122.5,199.1 122.5,198.2 122.6,197.4 122.7,196.5 122.8,195.7 123.0,194.8 123.1,194.0 123.3,193.2 123.4,192.3 123.6,191.5 123.7,194.8 123.5,195.6 123.3,196.4 123.2,197.3 123.0,198.1 122.9,199.0 122.8,199.8 122.7,200.7 122.6,201.5 122.5,202.4 122.5,203.3 122.4,204.1 122.4,205.0 122.4,205.8 122.4,206.7 122.4,207.6 122.4,208.4 122.5,209.3 122.5,210.2 122.6,211.0 122.7,211.9 122.8,212.8 122.9,213.6 123.0,214.5 123.2,215.4 123.4,216.3 123.5,217.2 123.7,218.0 123.9,218.9 124.2,219.8 124.4,220.7 124.7,221.5 124.9,222.4 125.2,223.3 125.5,224.2 125.8,225.1 126.2,225.9 126.5,226.8 126.9,227.7 127.3,228.6 127.7,229.5 128.1,230.4 128.5,231.2 129.0,232.1 129.4,233.0 129.9,233.9 130.4,234.8 130.9,235.6 131.5,236.5 132.0,237.4 132.6,238.3 133.1,239.1 133.7,240.0 134.4,240.9 135.0,241.8 135.6,242.6 136.3,243.5 137.0,244.4 137.7,245.2 138.4,246.1 139.1,247.0 139.8,247.8 140.6,248.7 141.4,249.5 142.2,250.4 143.0,251.3 143.8,252.1 144.7,253.0 145.5,253.8 146.4,254.7 147.3,255.5 148.2,256.3 149.2,257.2 150.1,258.0 151.1,258.8 152.1,259.7 153.1,260.5 154.1,261.3 155.1,262.1 156.1,263.0 157.2,263.8 158.3,264.6 159.4,265.4 160.5,266.2 161.6,267.0 162.8,267.8 164.0,268.6 165.1,269.4 166.3,270.2 167.5,271.0 168.8,271.7 170.0,272.5 171.3,273.3 172.6,274.0 173.9,274.8 175.2,275.6 176.5,276.3 177.8,277.0 179.2,277.8 180.6,278.5 182.0,279.3 183.4,280.0 184.8,280.7 186.2,281.4 187.7,282.1 189.2,282.8 190.6,283.5 192.1,284.2 193.6,284.9 195.2,285.6 196.7,286.3 198.3,286.9 199.9,287.6 201.4,288.3 203.0,288.9 204.7,289.6 206.3,290.2 207.9,290.8 209.6,291.5 211.3,292.1 213.0,292.7 214.7,293.3 216.4,293.9 218.1,294.5 219.8,295.1 221.6,295.6 223.4,296.2 225.1,296.8 226.9,297.3 228.7,297.9 230.6,298.4 232.4,299.0 234.2,299.5 236.1,300.0 237.9,300.5 239.8,301.0 241.7,301.5 243.6,302.0 245.5,302.5 247.4,302.9 249.4,303.4 251.3,303.8 253.3,304.3 255.2,304.7 257.2,305.2 259.2,305.6 261.2,306.0 263.2,306.4 265.2,306.8 267.2,307.2 269.2,307.5 271.3,307.9 273.3,308.3 275.4,308.6 277.4,308.9 279.5,309.3 281.6,309.6 283.7,309.9 285.8,310.2 287.9,310.5 290.0,310.8 292.1,311.1 294.2,311.3 296.3,311.6 298.5,311.8 300.6,312.1 302.7,312.3 304.9,312.5 307.0,312.7 309.2,312.9 311.4,313.1 313.5,313.3 315.7,313.4 317.9,313.6 320.1,313.7 322.2,313.9 324.4,314.0 326.6,314.1 328.8,314.2 331.0,314.3 333.2,314.4 335.4,314.5 337.6,314.5 339.8,314.6 342.0,314.7 344.2,314.7 346.4,314.7 348.6,314.7 350.8,314.7 353.0,314.7 355.2,314.7 357.4,314.7 359.6,314.7 361.8,314.6 364.0,314.6 366.2,314.5 368.4,314.4 370.6,314.4 372.8,314.3 375.0,314.2 377.2,314.0 379.4,313.9 381.6,313.8 383.7,313.6 385.9,313.5 388.1,313.3 390.3,313.2 392.4,313.0 394.6,312.8 396.7,312.6 398.9,312.4 401.0,312.1 403.2,311.9 405.3,311.7 407.5,311.4 409.6,311.2 411.7,310.9 413.8,310.6 415.9,310.3 418.0,310.0 420.1,309.7 422.2,309.4 424.3,309.1 426.3,308.7 428.4,308.4 430.4,308.0 432.5,307.7 434.5,307.3 436.5,306.9 438.5,306.5 440.6,306.1 442.6,305.7 444.5,305.3 446.5,304.9 448.5,304.5 450.4,304.0 452.4,303.6 454.3,303.1 456.3,302.6 458.2,302.2" fill="#fff" fill-opacity="0.06"/><polygon points="578.1,204.7 578.3,205.6 578.5,206.6 578.7,207.6 578.8,208.5 579.0,209.5 579.1,210.5 579.2,211.5 579.2,212.4 579.3,213.4 579.3,214.4 579.4,215.4 579.4,216.4 579.4,217.4 579.3,218.4 579.3,219.4 579.2,220.3 579.1,221.3 579.0,222.3 578.9,223.3 578.8,224.3 578.6,225.3 578.4,226.3 578.2,227.3 578.0,228.3 577.8,229.3 577.5,230.4 577.3,231.4 577.0,232.4 576.7,233.4 576.3,234.4 576.0,235.4 575.6,236.4 575.2,237.4 574.8,238.4 574.4,239.4 573.9,240.4 573.5,241.4 573.0,242.4 572.5,243.4 571.9,244.4 571.4,245.4 570.8,246.5 570.2,247.5 569.6,248.5 569.0,249.5 568.3,250.5 567.7,251.5 567.0,252.4 566.3,253.4 565.5,254.4 564.8,255.4 564.0,256.4 563.2,257.4 562.4,258.4 561.6,259.4 560.7,260.4 559.8,261.3 558.9,262.3 558.0,263.3 557.1,264.3 556.1,265.2 555.1,266.2 554.1,267.1 553.1,268.1 552.1,269.1 551.0,270.0 549.9,271.0 548.8,271.9 547.7,272.8 546.5,273.8 545.4,274.7 544.2,275.6 543.0,276.6 541.7,277.5 540.5,278.4 539.2,279.3 537.9,280.2 536.6,281.1 535.3,282.0 533.9,282.9 532.6,283.8 531.2,284.6 529.8,285.5 528.3,286.4 526.9,287.2 525.4,288.1 523.9,288.9 522.4,289.8 520.9,290.6 519.3,291.5 517.8,292.3 516.2,293.1 514.6,293.9 512.9,294.7 511.3,295.5 509.6,296.3 508.0,297.1 506.3,297.8 504.5,298.6 502.8,299.4 501.1,300.1 499.3,300.9 497.5,301.6 495.7,302.3 493.9,303.0 492.0,303.7 490.2,304.4 488.3,305.1 486.4,305.8 484.5,306.5 482.6,307.2 480.6,307.8 478.7,308.5 476.7,309.1 474.7,309.7 472.7,310.3 470.7,311.0 468.7,311.6 466.6,312.1 464.5,312.7 462.5,313.3 460.4,313.8 458.3,314.4 456.2,314.9 454.0,315.5 451.9,316.0 449.7,316.5 447.6,317.0 445.4,317.5 443.2,317.9 441.0,318.4 438.8,318.9 436.5,319.3 434.3,319.7 432.0,320.2 429.8,320.6 427.5,321.0 425.2,321.3 422.9,321.7 420.6,322.1 418.3,322.4 416.0,322.8 413.7,323.1 411.4,323.4 409.0,323.7 406.7,324.0 404.3,324.3 401.9,324.5 399.6,324.8 397.2,325.0 394.8,325.3 392.4,325.5 390.0,325.7 387.6,325.9 385.2,326.1 382.8,326.2 380.4,326.4 378.0,326.5 375.6,326.6 373.2,326.8 370.7,326.9 368.3,327.0 365.9,327.0 363.4,327.1 361.0,327.2 358.6,327.2 356.1,327.2 353.7,327.2 351.3,327.2 348.8,327.2 346.4,327.2 343.9,327.2 341.5,327.1 339.1,327.1 336.6,327.0 334.2,326.9 331.8,326.8 329.4,326.7 326.9,326.6 324.5,326.4 322.1,326.3 319.7,326.1 317.3,326.0 314.9,325.8 312.5,325.6 310.1,325.4 307.7,325.1 305.3,324.9 302.9,324.6 300.6,324.4 298.2,324.1 295.9,323.8 293.5,323.5 291.2,323.2 288.8,322.9 286.5,322.6 284.2,322.2 281.9,321.9 279.6,321.5 277.3,321.1 275.0,320.7 272.7,320.3 270.5,319.9 268.2,319.5 266.0,319.1 263.8,318.6 261.6,318.2 259.3,317.7 257.2,317.2 255.0,316.7 252.8,316.2 250.7,315.7 248.5,315.2 246.4,314.7 244.3,314.1 242.2,313.6 240.1,313.0 238.0,312.4 235.9,311.8 233.9,311.2 231.9,310.6 229.8,310.0 227.8,309.4 225.8,308.8 223.9,308.1 221.9,307.5 220.0,306.8 218.1,306.2 216.1,305.5 214.3,304.8 212.4,304.1 210.5,303.4 208.7,302.7 206.9,302.0 205.0,301.2 203.3,300.5 201.5,299.7 199.7,299.0 198.0,298.2 196.3,297.5 194.6,296.7 192.9,295.9 191.2,295.1 189.6,294.3 188.0,293.5 186.4,292.7 184.8,291.9 183.2,291.1 181.6,290.2 180.1,289.4 178.6,288.6 177.1,287.7 175.6,286.9 174.2,286.0 172.7,285.1 171.3,284.3 169.9,283.4 168.6,282.5 167.2,281.6 165.9,280.7 164.6,279.8 163.3,278.9 162.0,278.0 160.7,277.1 159.5,276.2 158.3,275.2 157.1,274.3 155.9,273.4 154.8,272.5 153.6,271.5 152.5,270.6 151.4,269.6 150.4,268.7 149.3,267.7 148.3,266.8 147.3,265.8 146.3,264.8 145.3,263.9 144.4,262.9 143.5,261.9 142.6,261.0 141.7,260.0 140.8,259.0 140.0,258.0 139.1,257.1 138.3,256.1 137.6,255.1 136.8,254.1 136.1,253.1 135.3,252.1 134.6,251.1 134.0,250.1 133.3,249.1 132.7,248.1 132.0,247.1 131.4,246.1 130.9,245.1 130.3,244.1 129.8,243.1 129.3,242.1 128.8,241.1 128.3,240.1 127.8,239.1 127.4,238.1 127.0,237.1 126.6,236.1 126.2,235.1 125.8,234.1 125.5,233.1 125.2,232.1 124.9,231.1 124.6,230.1 124.3,229.1 124.1,228.1 123.8,227.1 123.6,226.1 123.4,225.1 123.3,224.1 123.1,223.1 123.0,222.1 122.9,221.1 122.8,220.1 122.7,219.1 122.6,218.1 122.6,217.2 122.6,216.2 122.6,215.2 122.6,214.2 122.6,213.2 122.6,212.2 122.7,211.3 122.8,210.3 122.9,209.3 123.0,208.4 123.1,207.4 123.3,206.4 123.4,205.5 123.6,204.5 123.8,203.6 123.9,210.1 123.7,211.0 123.6,212.0 123.4,213.0 123.3,214.0 123.1,215.0 123.0,216.0 122.9,216.9 122.8,217.9 122.8,218.9 122.7,219.9 122.7,220.9 122.7,221.9 122.7,222.9 122.7,223.9 122.8,225.0 122.8,226.0 122.9,227.0 123.0,228.0 123.1,229.0 123.2,230.0 123.4,231.0 123.6,232.0 123.8,233.1 124.0,234.1 124.2,235.1 124.4,236.1 124.7,237.1 125.0,238.2 125.3,239.2 125.6,240.2 126.0,241.2 126.3,242.3 126.7,243.3 127.1,244.3 127.5,245.3 128.0,246.4 128.4,247.4 128.9,248.4 129.4,249.4 129.9,250.5 130.5,251.5 131.0,252.5 131.6,253.5 132.2,254.5 132.8,255.6 133.5,256.6 134.1,257.6 134.8,258.6 135.5,259.6 136.2,260.6 137.0,261.6 137.7,262.7 138.5,263.7 139.3,264.7 140.1,265.7 141.0,266.7 141.8,267.7 142.7,268.7 143.6,269.7 144.5,270.7 145.5,271.6 146.5,272.6 147.4,273.6 148.5,274.6 149.5,275.6 150.5,276.5 151.6,277.5 152.7,278.5 153.8,279.4 154.9,280.4 156.1,281.4 157.3,282.3 158.4,283.3 159.7,284.2 160.9,285.1 162.1,286.1 163.4,287.0 164.7,287.9 166.0,288.8 167.4,289.8 168.7,290.7 170.1,291.6 171.5,292.5 172.9,293.4 174.3,294.2 175.8,295.1 177.3,296.0 178.7,296.9 180.3,297.7 181.8,298.6 183.3,299.4 184.9,300.3 186.5,301.1 188.1,301.9 189.7,302.8 191.4,303.6 193.0,304.4 194.7,305.2 196.4,306.0 198.1,306.8 199.9,307.5 201.6,308.3 203.4,309.1 205.2,309.8 207.0,310.6 208.8,311.3 210.7,312.0 212.5,312.7 214.4,313.5 216.3,314.2 218.2,314.9 220.1,315.5 222.0,316.2 224.0,316.9 226.0,317.5 228.0,318.2 230.0,318.8 232.0,319.4 234.0,320.1 236.1,320.7 238.1,321.3 240.2,321.9 242.3,322.4 244.4,323.0 246.5,323.6 248.6,324.1 250.8,324.6 252.9,325.2 255.1,325.7 257.3,326.2 259.5,326.7 261.7,327.1 263.9,327.6 266.1,328.1 268.3,328.5 270.6,329.0 272.8,329.4 275.1,329.8 277.4,330.2 279.7,330.6 282.0,331.0 284.3,331.3 286.6,331.7 288.9,332.0 291.2,332.3 293.6,332.7 295.9,333.0 298.3,333.3 300.6,333.5 303.0,333.8 305.4,334.1 307.8,334.3 310.2,334.5 312.5,334.8 314.9,335.0 317.3,335.2 319.8,335.3 322.2,335.5 324.6,335.7 327.0,335.8 329.4,335.9 331.8,336.0 334.3,336.1 336.7,336.2 339.1,336.3 341.6,336.4 344.0,336.4 346.4,336.5 348.9,336.5 351.3,336.5 353.7,336.5 356.2,336.5 358.6,336.5 361.0,336.4 363.5,336.4 365.9,336.3 368.3,336.2 370.7,336.1 373.2,336.0 375.6,335.9 378.0,335.8 380.4,335.6 382.8,335.5 385.2,335.3 387.6,335.1 390.0,334.9 392.4,334.7 394.8,334.5 397.2,334.3 399.6,334.0 401.9,333.8 404.3,333.5 406.7,333.2 409.0,332.9 411.3,332.6 413.7,332.3 416.0,332.0 418.3,331.6 420.6,331.3 422.9,330.9 425.2,330.6 427.5,330.2 429.7,329.8 432.0,329.3 434.3,328.9 436.5,328.5 438.7,328.0 440.9,327.6 443.1,327.1 445.3,326.6 447.5,326.1 449.7,325.6 451.8,325.1 454.0,324.6 456.1,324.0 458.2,323.5 460.3,322.9 462.4,322.4 464.5,321.8 466.5,321.2 468.6,320.6 470.6,320.0 472.6,319.4 474.6,318.7 476.6,318.1 478.6,317.5 480.5,316.8 482.5,316.1 484.4,315.5 486.3,314.8 488.2,314.1 490.1,313.4 491.9,312.7 493.8,311.9 495.6,311.2 497.4,310.5 499.2,309.7 500.9,309.0 502.7,308.2 504.4,307.4 506.1,306.7 507.8,305.9 509.5,305.1 511.2,304.3 512.8,303.5 514.4,302.6 516.0,301.8 517.6,301.0 519.2,300.1 520.7,299.3 522.3,298.4 523.8,297.6 525.3,296.7 526.7,295.9 528.2,295.0 529.6,294.1 531.0,293.2 532.4,292.3 533.8,291.4 535.1,290.5 536.5,289.6 537.8,288.7 539.1,287.8 540.3,286.8 541.6,285.9 542.8,285.0 544.0,284.0 545.2,283.1 546.4,282.1 547.5,281.2 548.6,280.2 549.7,279.3 550.8,278.3 551.9,277.3 552.9,276.4 553.9,275.4 554.9,274.4 555.9,273.4 556.9,272.4 557.8,271.4 558.7,270.4 559.6,269.5 560.5,268.5 561.4,267.5 562.2,266.5 563.0,265.4 563.8,264.4 564.6,263.4 565.3,262.4 566.1,261.4 566.8,260.4 567.5,259.4 568.1,258.4 568.8,257.3 569.4,256.3 570.0,255.3 570.6,254.3 571.2,253.3 571.7,252.2 572.2,251.2 572.7,250.2 573.2,249.2 573.7,248.1 574.2,247.1 574.6,246.1 575.0,245.0 575.4,244.0 575.7,243.0 576.1,242.0 576.4,240.9 576.7,239.9 577.0,238.9 577.3,237.9 577.5,236.8 577.8,235.8 578.0,234.8 578.2,233.8 578.4,232.7 578.5,231.7 578.7,230.7 578.8,229.7 578.9,228.7 579.0,227.6 579.0,226.6 579.1,225.6 579.1,224.6 579.1,223.6 579.1,222.6 579.1,221.6 579.0,220.6 579.0,219.6 578.9,218.6 578.8,217.6 578.7,216.6 578.6,215.6 578.4,214.6 578.2,213.6 578.1,212.6 577.9,211.6" fill="#000" fill-opacity="0.04"/><polygon points="577.9,211.6 578.1,212.6 578.2,213.6 578.4,214.6 578.6,215.6 578.7,216.6 578.8,217.6 578.9,218.6 579.0,219.6 579.0,220.6 579.1,221.6 579.1,222.6 579.1,223.6 579.1,224.6 579.1,225.6 579.0,226.6 579.0,227.6 578.9,228.7 578.8,229.7 578.7,230.7 578.5,231.7 578.4,232.7 578.2,233.8 578.0,234.8 577.8,235.8 577.5,236.8 577.3,237.9 577.0,238.9 576.7,239.9 576.4,240.9 576.1,242.0 575.7,243.0 575.4,244.0 575.0,245.0 574.6,246.1 574.2,247.1 573.7,248.1 573.2,249.2 572.7,250.2 572.2,251.2 571.7,252.2 571.2,253.3 570.6,254.3 570.0,255.3 569.4,256.3 568.8,257.3 568.1,258.4 567.5,259.4 566.8,260.4 566.1,261.4 565.3,262.4 564.6,263.4 563.8,264.4 563.0,265.4 562.2,266.5 561.4,267.5 560.5,268.5 559.6,269.5 558.7,270.4 557.8,271.4 556.9,272.4 555.9,273.4 554.9,274.4 553.9,275.4 552.9,276.4 551.9,277.3 550.8,278.3 549.7,279.3 548.6,280.2 547.5,281.2 546.4,282.1 545.2,283.1 544.0,284.0 542.8,285.0 541.6,285.9 540.3,286.8 539.1,287.8 537.8,288.7 536.5,289.6 535.1,290.5 533.8,291.4 532.4,292.3 531.0,293.2 529.6,294.1 528.2,295.0 526.7,295.9 525.3,296.7 523.8,297.6 522.3,298.4 520.7,299.3 519.2,300.1 517.6,301.0 516.0,301.8 514.4,302.6 512.8,303.5 511.2,304.3 509.5,305.1 507.8,305.9 506.1,306.7 504.4,307.4 502.7,308.2 500.9,309.0 499.2,309.7 497.4,310.5 495.6,311.2 493.8,311.9 491.9,312.7 490.1,313.4 488.2,314.1 486.3,314.8 484.4,315.5 482.5,316.1 480.5,316.8 478.6,317.5 476.6,318.1 474.6,318.7 472.6,319.4 470.6,320.0 468.6,320.6 466.5,321.2 464.5,321.8 462.4,322.4 460.3,322.9 458.2,323.5 456.1,324.0 454.0,324.6 451.8,325.1 449.7,325.6 447.5,326.1 445.3,326.6 443.1,327.1 440.9,327.6 438.7,328.0 436.5,328.5 434.3,328.9 432.0,329.3 429.7,329.8 427.5,330.2 425.2,330.6 422.9,330.9 420.6,331.3 418.3,331.6 416.0,332.0 413.7,332.3 411.3,332.6 409.0,332.9 406.7,333.2 404.3,333.5 401.9,333.8 399.6,334.0 397.2,334.3 394.8,334.5 392.4,334.7 390.0,334.9 387.6,335.1 385.2,335.3 382.8,335.5 380.4,335.6 378.0,335.8 375.6,335.9 373.2,336.0 370.7,336.1 368.3,336.2 365.9,336.3 363.5,336.4 361.0,336.4 358.6,336.5 356.2,336.5 353.7,336.5 351.3,336.5 348.9,336.5 346.4,336.5 344.0,336.4 341.6,336.4 339.1,336.3 336.7,336.2 334.3,336.1 331.8,336.0 329.4,335.9 327.0,335.8 324.6,335.7 322.2,335.5 319.8,335.3 317.3,335.2 314.9,335.0 312.5,334.8 310.2,334.5 307.8,334.3 305.4,334.1 303.0,333.8 300.6,333.5 298.3,333.3 295.9,333.0 293.6,332.7 291.2,332.3 288.9,332.0 286.6,331.7 284.3,331.3 282.0,331.0 279.7,330.6 277.4,330.2 275.1,329.8 272.8,329.4 270.6,329.0 268.3,328.5 266.1,328.1 263.9,327.6 261.7,327.1 259.5,326.7 257.3,326.2 255.1,325.7 252.9,325.2 250.8,324.6 248.6,324.1 246.5,323.6 244.4,323.0 242.3,322.4 240.2,321.9 238.1,321.3 236.1,320.7 234.0,320.1 232.0,319.4 230.0,318.8 228.0,318.2 226.0,317.5 224.0,316.9 222.0,316.2 220.1,315.5 218.2,314.9 216.3,314.2 214.4,313.5 212.5,312.7 210.7,312.0 208.8,311.3 207.0,310.6 205.2,309.8 203.4,309.1 201.6,308.3 199.9,307.5 198.1,306.8 196.4,306.0 194.7,305.2 193.0,304.4 191.4,303.6 189.7,302.8 188.1,301.9 186.5,301.1 184.9,300.3 183.3,299.4 181.8,298.6 180.3,297.7 178.7,296.9 177.3,296.0 175.8,295.1 174.3,294.2 172.9,293.4 171.5,292.5 170.1,291.6 168.7,290.7 167.4,289.8 166.0,288.8 164.7,287.9 163.4,287.0 162.1,286.1 160.9,285.1 159.7,284.2 158.4,283.3 157.3,282.3 156.1,281.4 154.9,280.4 153.8,279.4 152.7,278.5 151.6,277.5 150.5,276.5 149.5,275.6 148.5,274.6 147.4,273.6 146.5,272.6 145.5,271.6 144.5,270.7 143.6,269.7 142.7,268.7 141.8,267.7 141.0,266.7 140.1,265.7 139.3,264.7 138.5,263.7 137.7,262.7 137.0,261.6 136.2,260.6 135.5,259.6 134.8,258.6 134.1,257.6 133.5,256.6 132.8,255.6 132.2,254.5 131.6,253.5 131.0,252.5 130.5,251.5 129.9,250.5 129.4,249.4 128.9,248.4 128.4,247.4 128.0,246.4 127.5,245.3 127.1,244.3 126.7,243.3 126.3,242.3 126.0,241.2 125.6,240.2 125.3,239.2 125.0,238.2 124.7,237.1 124.4,236.1 124.2,235.1 124.0,234.1 123.8,233.1 123.6,232.0 123.4,231.0 123.2,230.0 123.1,229.0 123.0,228.0 122.9,227.0 122.8,226.0 122.8,225.0 122.7,223.9 122.7,222.9 122.7,221.9 122.7,220.9 122.7,219.9 122.8,218.9 122.8,217.9 122.9,216.9 123.0,216.0 123.1,215.0 123.3,214.0 123.4,213.0 123.6,212.0 123.7,211.0 123.9,210.1 124.1,216.6 123.9,217.6 123.7,218.6 123.5,219.6 123.4,220.6 123.2,221.6 123.1,222.6 123.0,223.6 123.0,224.6 122.9,225.6 122.8,226.6 122.8,227.7 122.8,228.7 122.8,229.7 122.8,230.7 122.9,231.8 123.0,232.8 123.0,233.8 123.1,234.9 123.2,235.9 123.4,236.9 123.5,238.0 123.7,239.0 123.9,240.0 124.1,241.1 124.3,242.1 124.6,243.2 124.8,244.2 125.1,245.2 125.4,246.3 125.8,247.3 126.1,248.4 126.5,249.4 126.8,250.5 127.3,251.5 127.7,252.6 128.1,253.6 128.6,254.6 129.1,255.7 129.6,256.7 130.1,257.8 130.6,258.8 131.2,259.9 131.7,260.9 132.3,261.9 133.0,263.0 133.6,264.0 134.3,265.1 134.9,266.1 135.6,267.1 136.4,268.2 137.1,269.2 137.9,270.2 138.7,271.3 139.5,272.3 140.3,273.3 141.1,274.3 142.0,275.4 142.9,276.4 143.8,277.4 144.7,278.4 145.6,279.4 146.6,280.4 147.6,281.4 148.6,282.4 149.6,283.4 150.7,284.4 151.8,285.4 152.8,286.4 154.0,287.4 155.1,288.4 156.2,289.3 157.4,290.3 158.6,291.3 159.8,292.2 161.0,293.2 162.3,294.1 163.6,295.1 164.9,296.0 166.2,297.0 167.5,297.9 168.9,298.8 170.2,299.7 171.6,300.7 173.1,301.6 174.5,302.5 175.9,303.4 177.4,304.3 178.9,305.2 180.4,306.0 181.9,306.9 183.5,307.8 185.1,308.6 186.6,309.5 188.3,310.3 189.9,311.2 191.5,312.0 193.2,312.8 194.9,313.7 196.6,314.5 198.3,315.3 200.0,316.1 201.8,316.9 203.5,317.6 205.3,318.4 207.1,319.2 209.0,319.9 210.8,320.7 212.7,321.4 214.5,322.1 216.4,322.8 218.3,323.5 220.2,324.2 222.2,324.9 224.1,325.6 226.1,326.3 228.1,327.0 230.1,327.6 232.1,328.2 234.1,328.9 236.2,329.5 238.2,330.1 240.3,330.7 242.4,331.3 244.5,331.9 246.6,332.5 248.7,333.0 250.9,333.6 253.0,334.1 255.2,334.6 257.4,335.1 259.6,335.6 261.8,336.1 264.0,336.6 266.2,337.1 268.4,337.5 270.7,338.0 272.9,338.4 275.2,338.8 277.5,339.3 279.8,339.7 282.1,340.0 284.4,340.4 286.7,340.8 289.0,341.1 291.3,341.5 293.7,341.8 296.0,342.1 298.4,342.4 300.7,342.7 303.1,343.0 305.5,343.2 307.8,343.5 310.2,343.7 312.6,343.9 315.0,344.2 317.4,344.4 319.8,344.5 322.2,344.7 324.6,344.9 327.1,345.0 329.5,345.1 331.9,345.3 334.3,345.4 336.7,345.5 339.2,345.6 341.6,345.6 344.0,345.7 346.5,345.7 348.9,345.7 351.3,345.8 353.8,345.8 356.2,345.8 358.6,345.7 361.1,345.7 363.5,345.6 365.9,345.6 368.3,345.5 370.8,345.4 373.2,345.3 375.6,345.2 378.0,345.1 380.4,344.9 382.8,344.8 385.2,344.6 387.6,344.4 390.0,344.2 392.4,344.0 394.8,343.8 397.2,343.5 399.6,343.3 401.9,343.0 404.3,342.8 406.6,342.5 409.0,342.2 411.3,341.9 413.7,341.6 416.0,341.2 418.3,340.9 420.6,340.5 422.9,340.1 425.2,339.8 427.4,339.4 429.7,339.0 432.0,338.5 434.2,338.1 436.4,337.7 438.7,337.2 440.9,336.7 443.1,336.3 445.3,335.8 447.4,335.3 449.6,334.8 451.8,334.2 453.9,333.7 456.0,333.2 458.1,332.6 460.2,332.0 462.3,331.5 464.4,330.9 466.5,330.3 468.5,329.7 470.5,329.0 472.5,328.4 474.5,327.8 476.5,327.1 478.5,326.5 480.4,325.8 482.4,325.1 484.3,324.4 486.2,323.7 488.1,323.0 490.0,322.3 491.8,321.6 493.6,320.8 495.5,320.1 497.3,319.3 499.1,318.6 500.8,317.8 502.6,317.0 504.3,316.3 506.0,315.5 507.7,314.7 509.4,313.9 511.0,313.0 512.7,312.2 514.3,311.4 515.9,310.5 517.5,309.7 519.1,308.8 520.6,308.0 522.1,307.1 523.6,306.2 525.1,305.4 526.6,304.5 528.0,303.6 529.5,302.7 530.9,301.8 532.2,300.9 533.6,299.9 535.0,299.0 536.3,298.1 537.6,297.2 538.9,296.2 540.1,295.3 541.4,294.3 542.6,293.4 543.8,292.4 545.0,291.5 546.2,290.5 547.3,289.5 548.4,288.5 549.5,287.6 550.6,286.6 551.7,285.6 552.7,284.6 553.7,283.6 554.7,282.6 555.7,281.6 556.7,280.6 557.6,279.6 558.5,278.6 559.4,277.6 560.3,276.6 561.1,275.5 562.0,274.5 562.8,273.5 563.6,272.5 564.4,271.4 565.1,270.4 565.8,269.4 566.5,268.3 567.2,267.3 567.9,266.3 568.5,265.2 569.2,264.2 569.8,263.1 570.4,262.1 570.9,261.1 571.5,260.0 572.0,259.0 572.5,257.9 573.0,256.9 573.5,255.8 573.9,254.8 574.3,253.7 574.7,252.7 575.1,251.6 575.5,250.6 575.8,249.5 576.2,248.5 576.5,247.5 576.8,246.4 577.0,245.4 577.3,244.3 577.5,243.3 577.7,242.2 577.9,241.2 578.1,240.1 578.3,239.1 578.4,238.1 578.5,237.0 578.6,236.0 578.7,234.9 578.8,233.9 578.8,232.9 578.8,231.9 578.8,230.8 578.8,229.8 578.8,228.8 578.8,227.7 578.7,226.7 578.6,225.7 578.5,224.7 578.4,223.7 578.3,222.7 578.1,221.6 578.0,220.6 577.8,219.6 577.6,218.6" fill="#000" fill-opacity="0.08"/><polygon points="577.6,218.6 577.8,219.6 578.0,220.6 578.1,221.6 578.3,222.7 578.4,223.7 578.5,224.7 578.6,225.7 578.7,226.7 578.8,227.7 578.8,228.8 578.8,229.8 578.8,230.8 578.8,231.9 578.8,232.9 578.8,233.9 578.7,234.9 578.6,236.0 578.5,237.0 578.4,238.1 578.3,239.1 578.1,240.1 577.9,241.2 577.7,242.2 577.5,243.3 577.3,244.3 577.0,245.4 576.8,246.4 576.5,247.5 576.2,248.5 575.8,249.5 575.5,250.6 575.1,251.6 574.7,252.7 574.3,253.7 573.9,254.8 573.5,255.8 573.0,256.9 572.5,257.9 572.0,259.0 571.5,260.0 570.9,261.1 570.4,262.1 569.8,263.1 569.2,264.2 568.5,265.2 567.9,266.3 567.2,267.3 566.5,268.3 565.8,269.4 565.1,270.4 564.4,271.4 563.6,272.5 562.8,273.5 562.0,274.5 561.1,275.5 560.3,276.6 559.4,277.6 558.5,278.6 557.6,279.6 556.7,280.6 555.7,281.6 554.7,282.6 553.7,283.6 552.7,284.6 551.7,285.6 550.6,286.6 549.5,287.6 548.4,288.5 547.3,289.5 546.2,290.5 545.0,291.5 543.8,292.4 542.6,293.4 541.4,294.3 540.1,295.3 538.9,296.2 537.6,297.2 536.3,298.1 535.0,299.0 533.6,299.9 532.2,300.9 530.9,301.8 529.5,302.7 528.0,303.6 526.6,304.5 525.1,305.4 523.6,306.2 522.1,307.1 520.6,308.0 519.1,308.8 517.5,309.7 515.9,310.5 514.3,311.4 512.7,312.2 511.0,313.0 509.4,313.9 507.7,314.7 506.0,315.5 504.3,316.3 502.6,317.0 500.8,317.8 499.1,318.6 497.3,319.3 495.5,320.1 493.6,320.8 491.8,321.6 490.0,322.3 488.1,323.0 486.2,323.7 484.3,324.4 482.4,325.1 480.4,325.8 478.5,326.5 476.5,327.1 474.5,327.8 472.5,328.4 470.5,329.0 468.5,329.7 466.5,330.3 464.4,330.9 462.3,331.5 460.2,332.0 458.1,332.6 456.0,333.2 453.9,333.7 451.8,334.2 449.6,334.8 447.4,335.3 445.3,335.8 443.1,336.3 440.9,336.7 438.7,337.2 436.4,337.7 434.2,338.1 432.0,338.5 429.7,339.0 427.4,339.4 425.2,339.8 422.9,340.1 420.6,340.5 418.3,340.9 416.0,341.2 413.7,341.6 411.3,341.9 409.0,342.2 406.6,342.5 404.3,342.8 401.9,343.0 399.6,343.3 397.2,343.5 394.8,343.8 392.4,344.0 390.0,344.2 387.6,344.4 385.2,344.6 382.8,344.8 380.4,344.9 378.0,345.1 375.6,345.2 373.2,345.3 370.8,345.4 368.3,345.5 365.9,345.6 363.5,345.6 361.1,345.7 358.6,345.7 356.2,345.8 353.8,345.8 351.3,345.8 348.9,345.7 346.5,345.7 344.0,345.7 341.6,345.6 339.2,345.6 336.7,345.5 334.3,345.4 331.9,345.3 329.5,345.1 327.1,345.0 324.6,344.9 322.2,344.7 319.8,344.5 317.4,344.4 315.0,344.2 312.6,343.9 310.2,343.7 307.8,343.5 305.5,343.2 303.1,343.0 300.7,342.7 298.4,342.4 296.0,342.1 293.7,341.8 291.3,341.5 289.0,341.1 286.7,340.8 284.4,340.4 282.1,340.0 279.8,339.7 277.5,339.3 275.2,338.8 272.9,338.4 270.7,338.0 268.4,337.5 266.2,337.1 264.0,336.6 261.8,336.1 259.6,335.6 257.4,335.1 255.2,334.6 253.0,334.1 250.9,333.6 248.7,333.0 246.6,332.5 244.5,331.9 242.4,331.3 240.3,330.7 238.2,330.1 236.2,329.5 234.1,328.9 232.1,328.2 230.1,327.6 228.1,327.0 226.1,326.3 224.1,325.6 222.2,324.9 220.2,324.2 218.3,323.5 216.4,322.8 214.5,322.1 212.7,321.4 210.8,320.7 209.0,319.9 207.1,319.2 205.3,318.4 203.5,317.6 201.8,316.9 200.0,316.1 198.3,315.3 196.6,314.5 194.9,313.7 193.2,312.8 191.5,312.0 189.9,311.2 188.3,310.3 186.6,309.5 185.1,308.6 183.5,307.8 181.9,306.9 180.4,306.0 178.9,305.2 177.4,304.3 175.9,303.4 174.5,302.5 173.1,301.6 171.6,300.7 170.2,299.7 168.9,298.8 167.5,297.9 166.2,297.0 164.9,296.0 163.6,295.1 162.3,294.1 161.0,293.2 159.8,292.2 158.6,291.3 157.4,290.3 156.2,289.3 155.1,288.4 154.0,287.4 152.8,286.4 151.8,285.4 150.7,284.4 149.6,283.4 148.6,282.4 147.6,281.4 146.6,280.4 145.6,279.4 144.7,278.4 143.8,277.4 142.9,276.4 142.0,275.4 141.1,274.3 140.3,273.3 139.5,272.3 138.7,271.3 137.9,270.2 137.1,269.2 136.4,268.2 135.6,267.1 134.9,266.1 134.3,265.1 133.6,264.0 133.0,263.0 132.3,261.9 131.7,260.9 131.2,259.9 130.6,258.8 130.1,257.8 129.6,256.7 129.1,255.7 128.6,254.6 128.1,253.6 127.7,252.6 127.3,251.5 126.8,250.5 126.5,249.4 126.1,248.4 125.8,247.3 125.4,246.3 125.1,245.2 124.8,244.2 124.6,243.2 124.3,242.1 124.1,241.1 123.9,240.0 123.7,239.0 123.5,238.0 123.4,236.9 123.2,235.9 123.1,234.9 123.0,233.8 123.0,232.8 122.9,231.8 122.8,230.7 122.8,229.7 122.8,228.7 122.8,227.7 122.8,226.6 122.9,225.6 123.0,224.6 123.0,223.6 123.1,222.6 123.2,221.6 123.4,220.6 123.5,219.6 123.7,218.6 123.9,217.6 124.1,216.6 124.2,223.1 124.0,224.1 123.8,225.1 123.6,226.1 123.5,227.2 123.4,228.2 123.3,229.2 123.2,230.2 123.1,231.3 123.0,232.3 123.0,233.4 122.9,234.4 122.9,235.4 122.9,236.5 123.0,237.5 123.0,238.6 123.1,239.6 123.2,240.7 123.3,241.7 123.4,242.8 123.5,243.8 123.7,244.9 123.8,245.9 124.0,247.0 124.2,248.1 124.5,249.1 124.7,250.2 125.0,251.3 125.3,252.3 125.6,253.4 125.9,254.4 126.3,255.5 126.6,256.6 127.0,257.6 127.4,258.7 127.8,259.8 128.3,260.8 128.7,261.9 129.2,263.0 129.7,264.0 130.2,265.1 130.8,266.2 131.3,267.2 131.9,268.3 132.5,269.4 133.1,270.4 133.8,271.5 134.4,272.5 135.1,273.6 135.8,274.7 136.5,275.7 137.3,276.8 138.0,277.8 138.8,278.9 139.6,279.9 140.4,281.0 141.3,282.0 142.1,283.0 143.0,284.1 143.9,285.1 144.9,286.1 145.8,287.2 146.8,288.2 147.8,289.2 148.8,290.3 149.8,291.3 150.8,292.3 151.9,293.3 153.0,294.3 154.1,295.3 155.2,296.3 156.4,297.3 157.6,298.3 158.8,299.3 160.0,300.3 161.2,301.2 162.5,302.2 163.7,303.2 165.0,304.1 166.3,305.1 167.7,306.0 169.0,307.0 170.4,307.9 171.8,308.9 173.2,309.8 174.6,310.7 176.1,311.6 177.6,312.6 179.1,313.5 180.6,314.4 182.1,315.3 183.6,316.1 185.2,317.0 186.8,317.9 188.4,318.8 190.0,319.6 191.7,320.5 193.3,321.3 195.0,322.1 196.7,323.0 198.4,323.8 200.2,324.6 201.9,325.4 203.7,326.2 205.5,327.0 207.3,327.8 209.1,328.5 210.9,329.3 212.8,330.0 214.7,330.8 216.5,331.5 218.5,332.2 220.4,333.0 222.3,333.7 224.3,334.4 226.2,335.0 228.2,335.7 230.2,336.4 232.2,337.0 234.3,337.7 236.3,338.3 238.4,339.0 240.4,339.6 242.5,340.2 244.6,340.8 246.7,341.4 248.9,341.9 251.0,342.5 253.1,343.0 255.3,343.6 257.5,344.1 259.7,344.6 261.9,345.1 264.1,345.6 266.3,346.1 268.5,346.6 270.8,347.0 273.0,347.5 275.3,347.9 277.6,348.3 279.9,348.7 282.2,349.1 284.5,349.5 286.8,349.9 289.1,350.2 291.4,350.6 293.8,350.9 296.1,351.2 298.5,351.5 300.8,351.8 303.2,352.1 305.5,352.4 307.9,352.7 310.3,352.9 312.7,353.1 315.1,353.3 317.5,353.6 319.9,353.7 322.3,353.9 324.7,354.1 327.1,354.2 329.5,354.4 331.9,354.5 334.4,354.6 336.8,354.7 339.2,354.8 341.6,354.9 344.1,354.9 346.5,355.0 348.9,355.0 351.4,355.0 353.8,355.0 356.2,355.0 358.7,355.0 361.1,355.0 363.5,354.9 365.9,354.8 368.4,354.8 370.8,354.7 373.2,354.6 375.6,354.5 378.0,354.3 380.4,354.2 382.9,354.0 385.3,353.9 387.7,353.7 390.0,353.5 392.4,353.3 394.8,353.0 397.2,352.8 399.6,352.6 401.9,352.3 404.3,352.0 406.6,351.7 409.0,351.4 411.3,351.1 413.6,350.8 416.0,350.5 418.3,350.1 420.6,349.7 422.9,349.4 425.1,349.0 427.4,348.6 429.7,348.2 431.9,347.7 434.2,347.3 436.4,346.8 438.6,346.4 440.8,345.9 443.0,345.4 445.2,344.9 447.4,344.4 449.6,343.9 451.7,343.4 453.8,342.8 456.0,342.3 458.1,341.7 460.2,341.1 462.3,340.5 464.3,339.9 466.4,339.3 468.4,338.7 470.4,338.1 472.5,337.4 474.5,336.8 476.4,336.1 478.4,335.5 480.3,334.8 482.3,334.1 484.2,333.4 486.1,332.7 488.0,332.0 489.9,331.2 491.7,330.5 493.5,329.7 495.4,329.0 497.2,328.2 498.9,327.5 500.7,326.7 502.5,325.9 504.2,325.1 505.9,324.3 507.6,323.5 509.3,322.6 510.9,321.8 512.6,321.0 514.2,320.1 515.8,319.3 517.3,318.4 518.9,317.5 520.5,316.7 522.0,315.8 523.5,314.9 525.0,314.0 526.4,313.1 527.9,312.2 529.3,311.3 530.7,310.3 532.1,309.4 533.5,308.5 534.8,307.5 536.1,306.6 537.4,305.6 538.7,304.7 540.0,303.7 541.2,302.8 542.4,301.8 543.6,300.8 544.8,299.8 546.0,298.9 547.1,297.9 548.3,296.9 549.4,295.9 550.4,294.9 551.5,293.9 552.5,292.9 553.5,291.8 554.5,290.8 555.5,289.8 556.5,288.8 557.4,287.8 558.3,286.7 559.2,285.7 560.1,284.7 560.9,283.6 561.8,282.6 562.6,281.5 563.4,280.5 564.1,279.4 564.9,278.4 565.6,277.3 566.3,276.3 567.0,275.2 567.7,274.2 568.3,273.1 568.9,272.1 569.6,271.0 570.1,269.9 570.7,268.9 571.2,267.8 571.8,266.7 572.3,265.7 572.8,264.6 573.2,263.5 573.7,262.5 574.1,261.4 574.5,260.3 574.9,259.3 575.3,258.2 575.6,257.1 575.9,256.1 576.2,255.0 576.5,253.9 576.8,252.9 577.0,251.8 577.3,250.7 577.5,249.7 577.7,248.6 577.8,247.5 578.0,246.5 578.1,245.4 578.3,244.4 578.4,243.3 578.4,242.3 578.5,241.2 578.5,240.1 578.6,239.1 578.6,238.0 578.6,237.0 578.5,235.9 578.5,234.9 578.4,233.9 578.4,232.8 578.3,231.8 578.1,230.8 578.0,229.7 577.9,228.7 577.7,227.7 577.5,226.6 577.3,225.6" fill="#000" fill-opacity="0.13"/></g></g>
<polygon points="350.5,178.1 350.4,93.7 352.0,93.7 353.7,93.7 355.3,93.7 357.0,93.8 358.6,93.8 360.2,93.8 361.9,93.8 363.5,93.9 365.2,93.9 366.8,94.0 368.4,94.0 370.1,94.1 371.7,94.2 373.3,94.2 375.0,94.3 376.6,94.4 378.2,94.5 379.9,94.6 381.5,94.7 383.1,94.8 384.8,94.9 386.4,95.0 388.0,95.1 389.6,95.2 391.3,95.4 392.9,95.5 394.5,95.6 396.1,95.8 397.7,95.9 399.3,96.1 401.0,96.3 402.6,96.4 404.2,96.6 405.8,96.8 407.4,97.0 409.0,97.1 410.6,97.3 412.2,97.5 413.8,97.8 415.4,98.0 417.0,98.2 418.6,98.4 420.1,98.6 421.7,98.9 423.3,99.1 424.9,99.4 426.4,99.6 428.0,99.9 429.6,100.1 431.2,100.4 432.7,100.7 434.3,100.9 435.8,101.2 437.4,101.5 438.9,101.8 440.5,102.1 442.0,102.4 443.6,102.7 445.1,103.0 446.6,103.4 448.1,103.7 449.7,104.0 451.2,104.4 452.7,104.7 454.2,105.1 455.7,105.4 457.2,105.8 458.7,106.1 460.2,106.5 461.7,106.9 463.2,107.3 464.6,107.7 466.1,108.1 467.6,108.5 469.0,108.9 470.5,109.3 472.0,109.7 473.4,110.1 474.8,110.5 476.3,111.0 477.7,111.4 479.1,111.8 480.6,112.3 482.0,112.7 483.4,113.2 484.8,113.7 486.2,114.1 487.6,114.6 488.9,115.1 490.3,115.6 491.7,116.1 493.1,116.6 494.4,117.1 495.8,117.6 497.1,118.1 498.5,118.6 499.8,119.1 501.1,119.7 502.4,120.2 503.7,120.7 505.0,121.3 506.3,121.8 507.6,122.4 508.9,122.9 510.2,123.5 511.4,124.1 512.7,124.6 513.9,125.2 515.2,125.8 516.4,126.4 517.6,127.0 518.8,127.6 520.1,128.2 521.3,128.8" fill="#4a7fdd" stroke="#4a7fdd" stroke-width="0.6" stroke-linejoin="round"/>
<polygon points="350.5,178.1 521.3,128.8 522.5,129.5 523.6,130.1 524.8,130.7 526.0,131.4 527.2,132.0 528.3,132.6 529.4,133.3 530.6,134.0 531.7,134.6 532.8,135.3 533.9,136.0 535.0,136.7 536.1,137.3 537.2,138.0 538.2,138.7 539.3,139.4 540.3,140.1 541.4,140.8 542.4,141.6 543.4,142.3 544.4,143.0 545.4,143.7 546.4,144.5 547.3,145.2 548.3,145.9 549.2,146.7 550.2,147.5 551.1,148.2 552.0,149.0 552.9,149.7 553.8,150.5 554.6,151.3 555.5,152.1 556.3,152.9 557.2,153.7 558.0,154.5 558.8,155.3 559.6,156.1 560.4,156.9 561.1,157.7 561.9,158.5 562.6,159.3 563.4,160.2 564.1,161.0 564.8,161.8 565.5,162.7 566.1,163.5 566.8,164.4 567.4,165.2 568.1,166.1 568.7,166.9 569.3,167.8 569.9,168.7 570.4,169.5 571.0,170.4 571.5,171.3 572.0,172.2 572.6,173.1 573.0,174.0 573.5,174.8 574.0,175.7 574.4,176.6 574.9,177.6 575.3,178.5 575.7,179.4 576.0,180.3 576.4,181.2 576.7,182.1 577.1,183.1 577.4,184.0 577.7,184.9 578.0,185.8 578.2,186.8 578.5,187.7 578.7,188.7 578.9,189.6 579.1,190.6 579.3,191.5 579.4,192.5 579.5,193.4 579.7,194.4 579.8,195.3 579.8,196.3 579.9,197.3 579.9,198.2 580.0,199.2 580.0,200.2 580.0,201.1 579.9,202.1 579.9,203.1 579.8,204.1 579.7,205.0 579.6,206.0 579.5,207.0 579.3,208.0" fill="#ee592a" stroke="#ee592a" stroke-width="0.6" stroke-linejoin="round"/>
<polygon points="350.5,178.1 579.3,208.0 579.1,208.9 579.0,209.9 578.7,210.9 578.5,211.9 578.3,212.9 578.0,213.9 577.7,214.8 577.4,215.8 577.1,216.8 576.7,217.8 576.3,218.8 576.0,219.8 575.5,220.7 575.1,221.7 574.7,222.7 574.2,223.7 573.7,224.7 573.2,225.7 572.6,226.6 572.1,227.6 571.5,228.6 570.9,229.6 570.3,230.6 569.6,231.5 569.0,232.5 568.3,233.5 567.6,234.5 566.8,235.4 566.1,236.4 565.3,237.4 564.5,238.3 563.7,239.3 562.9,240.3 562.0,241.2 561.1,242.2 560.2,243.2 559.3,244.1 558.3,245.1 557.4,246.0 556.4,247.0 555.4,247.9 554.3,248.8 553.3,249.8 552.2,250.7 551.1,251.6 550.0,252.6 548.8,253.5 547.7,254.4 546.5,255.3 545.3,256.2 544.0,257.1 542.8,258.0 541.5,258.9 540.2,259.8 538.9,260.7 537.6,261.6 536.2,262.5 534.8,263.3 533.4,264.2 532.0,265.1 530.6,265.9 529.1,266.8 527.6,267.6 526.1,268.5 524.6,269.3 523.1,270.1 521.5,271.0 519.9,271.8 518.3,272.6 516.7,273.4 515.0,274.2 513.4,275.0 511.7,275.7 510.0,276.5 508.2,277.3 506.5,278.0 504.7,278.8 502.9,279.5 501.1,280.3 499.3,281.0 497.5,281.7 495.6,282.4 493.8,283.1 491.9,283.8 490.0,284.5 488.0,285.2 486.1,285.9 484.1,286.5 482.1,287.2 480.1,287.8 478.1,288.4 476.1,289.1 474.1,289.7" fill="#9d93b0" stroke="#9d93b0" stroke-width="0.6" stroke-linejoin="round"/>
<polygon points="350.5,178.1 474.1,289.7 472.0,290.3 469.9,290.9 467.7,291.5 465.6,292.1 463.5,292.6 461.3,293.2 459.1,293.8 456.9,294.3 454.7,294.8 452.5,295.3 450.2,295.8 448.0,296.3 445.7,296.8 443.4,297.3 441.1,297.8 438.8,298.2 436.5,298.7 434.2,299.1 431.9,299.5 429.5,299.9 427.1,300.3 424.8,300.7 422.4,301.1 420.0,301.4 417.6,301.8 415.2,302.1 412.8,302.4 410.3,302.7 407.9,303.0 405.5,303.3 403.0,303.6 400.5,303.9 398.1,304.1 395.6,304.3 393.1,304.6 390.6,304.8 388.2,305.0 385.7,305.2 383.2,305.3 380.6,305.5 378.1,305.6 375.6,305.8 373.1,305.9 370.6,306.0 368.1,306.1 365.5,306.2 363.0,306.3 360.5,306.3 358.0,306.4 355.4,306.4 352.9,306.4 350.4,306.4 347.8,306.4 345.3,306.4 342.8,306.3 340.2,306.3 337.7,306.2 335.2,306.2 332.7,306.1 330.1,306.0 327.6,305.9 325.1,305.7 322.6,305.6 320.1,305.4 317.6,305.3 315.1,305.1 312.6,304.9 310.1,304.7 307.6,304.5" fill="#fbaf02" stroke="#fbaf02" stroke-width="0.6" stroke-linejoin="round"/>
<polygon points="350.5,178.1 307.6,304.5 305.1,304.3 302.7,304.0 300.2,303.8 297.7,303.5 295.3,303.2 292.8,302.9 290.3,302.6 287.9,302.3 285.5,302.0 283.1,301.6 280.7,301.3 278.3,300.9 275.9,300.5 273.5,300.2 271.1,299.8 268.8,299.3 266.4,298.9 264.1,298.5 261.8,298.0 259.5,297.6 257.2,297.1 254.9,296.6 252.6,296.1 250.4,295.6 248.1,295.1 245.9,294.6 243.7,294.0 241.5,293.5 239.3,292.9 237.1,292.4 235.0,291.8 232.9,291.2 230.7,290.6 228.6,290.0 226.5,289.4 224.5,288.7 222.4,288.1 220.4,287.4 218.4,286.8 216.4,286.1 214.4,285.4 212.4,284.8 210.5,284.1 208.6,283.4 206.6,282.6 204.8,281.9 202.9,281.2 201.0,280.5 199.2,279.7 197.4,279.0 195.6,278.2" fill="#2d48cd" stroke="#2d48cd" stroke-width="0.6" stroke-linejoin="round"/>
<polygon points="350.5,178.1 195.6,278.2 193.8,277.4 192.1,276.6 190.3,275.9 188.6,275.1 186.9,274.3 185.3,273.5 183.6,272.6 182.0,271.8 180.4,271.0 178.8,270.2 177.2,269.3 175.7,268.5 174.2,267.6 172.7,266.8 171.2,265.9 169.7,265.0 168.3,264.2 166.9,263.3 165.5,262.4 164.1,261.5 162.8,260.6 161.4,259.7 160.1,258.8 158.8,257.9 157.6,257.0 156.3,256.0 155.1,255.1 153.9,254.2 152.8,253.2 151.6,252.3 150.5,251.4 149.4,250.4 148.3,249.5 147.2,248.5 146.2,247.6 145.2,246.6 144.2,245.6 143.2,244.7 142.3,243.7 141.4,242.7 140.5,241.8 139.6,240.8 138.7,239.8 137.9,238.8 137.1,237.9 136.3,236.9" fill="#619e46" stroke="#619e46" stroke-width="0.6" stroke-linejoin="round"/>
<polygon points="350.5,178.1 136.3,236.9 135.5,235.9 134.8,234.9 134.1,233.9 133.4,232.9 132.7,231.9 132.0,231.0 131.4,230.0 130.8,229.0 130.2,228.0 129.6,227.0 129.1,226.0 128.6,225.0 128.0,224.0 127.6,223.0 127.1,222.0 126.7,221.0 126.3,220.0 125.9,219.0 125.5,218.0 125.1,217.0 124.8,216.0 124.5,215.0 124.2,214.0 123.9,213.0 123.7,212.0 123.4,211.1 123.2,210.1 123.1,209.1 122.9,208.1 122.7,207.1 122.6,206.1 122.5,205.1 122.4,204.1 122.3,203.1 122.3,202.2 122.3,201.2 122.3,200.2 122.3,199.2 122.3,198.3 122.3,197.3 122.4,196.3 122.5,195.4 122.6,194.4 122.7,193.4 122.9,192.5 123.0,191.5" fill="#15339e" stroke="#15339e" stroke-width="0.6" stroke-linejoin="round"/>
<polygon points="350.5,178.1 123.0,191.5 123.2,190.5 123.4,189.6 123.6,188.6 123.9,187.7 124.1,186.7 124.4,185.7 124.7,184.8 125.0,183.8 125.3,182.9 125.7,182.0 126.0,181.0 126.4,180.1 126.8,179.2 127.2,178.2 127.6,177.3 128.1,176.4 128.5,175.5 129.0,174.6 129.5,173.7 130.0,172.8 130.6,171.9 131.1,171.0 131.7,170.1 132.2,169.2 132.8,168.3 133.4,167.4 134.1,166.5 134.7,165.6 135.3,164.8 136.0,163.9 136.7,163.1 137.4,162.2 138.1,161.3 138.8,160.5 139.6,159.7 140.3,158.8" fill="#aa1616" stroke="#aa1616" stroke-width="0.6" stroke-linejoin="round"/>
<polygon points="350.5,178.1 140.3,158.8 141.1,158.0 141.9,157.1 142.7,156.3 143.6,155.4 144.4,154.6 145.3,153.7 146.2,152.9 147.0,152.1 147.9,151.3 148.9,150.5 149.8,149.6 150.7,148.8 151.7,148.0 152.7,147.2 153.6,146.5 154.6,145.7 155.7,144.9 156.7,144.1 157.7,143.4 158.8,142.6 159.8,141.8" fill="#564287" stroke="#564287" stroke-width="0.6" stroke-linejoin="round"/>
<polygon points="350.5,178.1 159.8,141.8 160.9,141.1 162.0,140.4 163.1,139.6 164.2,138.9 165.3,138.1 166.4,137.4 167.5,136.7 168.7,136.0 169.8,135.3 171.0,134.6 172.2,133.9 173.4,133.2 174.6,132.5 175.8,131.8 177.0,131.2 178.3,130.5 179.5,129.8" fill="#b9640f" stroke="#b9640f" stroke-width="0.6" stroke-linejoin="round"/>
<polygon points="350.5,178.1 179.5,129.8 180.7,129.2 181.9,128.6 183.1,128.0 184.3,127.4 185.5,126.8 186.7,126.2 187.9,125.6 189.2,125.1 190.4,124.5 191.7,123.9 192.9,123.3 194.2,122.8 195.5,122.2 196.8,121.7 198.0,121.1 199.3,120.6 200.6,120.1 202.0,119.5 203.3,119.0 204.6,118.5 205.9,118.0 207.3,117.5 208.6,117.0 210.0,116.5 211.3,116.0 212.7,115.5 214.1,115.0 215.4,114.5 216.8,114.1 218.2,113.6 219.6,113.1 221.0,112.7 222.4,112.2 223.8,111.8 225.3,111.3 226.7,110.9 228.1,110.5 229.5,110.1 231.0,109.6 232.4,109.2 233.9,108.8 235.3,108.4 236.8,108.0 238.3,107.6 239.7,107.3 241.2,106.9 242.7,106.5 244.2,106.1 245.7,105.8 247.2,105.4 248.7,105.1 250.2,104.7 251.7,104.4 253.2,104.0 254.7,103.7 256.2,103.4 257.7,103.1 259.3,102.7 260.8,102.4 262.3,102.1 263.9,101.8 265.4,101.5 266.9,101.2 268.5,101.0 270.0,100.7 271.6,100.4 273.2,100.1 274.7,99.9 276.3,99.6 277.8,99.4 279.4,99.1 281.0,98.9 282.6,98.7 284.1,98.4 285.7,98.2 287.3,98.0 288.9,97.8 290.5,97.6 292.1,97.4 293.7,97.2 295.3,97.0 296.9,96.8 298.5,96.6 300.1,96.5 301.7,96.3 303.3,96.1 304.9,96.0 306.5,95.8 308.1,95.7 309.7,95.5 311.3,95.4 312.9,95.3 314.6,95.1 316.2,95.0 317.8,94.9 319.4,94.8 321.0,94.7 322.7,94.6 324.3,94.5 325.9,94.4 327.6,94.3 329.2,94.2 330.8,94.2 332.4,94.1 334.1,94.0 335.7,94.0 337.3,93.9 339.0,93.9 340.6,93.9 342.2,93.8 343.9,93.8 345.5,93.8 347.1,93.8 348.8,93.7 350.4,93.7" fill="#0c0b78" stroke="#0c0b78" stroke-width="0.6" stroke-linejoin="round"/>
<polyline points="466.7,290.2 465.2,290.6 463.7,291.0 462.2,291.4 460.7,291.8 459.1,292.1 457.6,292.5 456.1,292.9 454.5,293.3 453.0,293.6 451.4,294.0 449.9,294.3 448.3,294.7 446.7,295.0 445.1,295.4 443.5,295.7 442.0,296.0 440.4,296.3 438.7,296.6 437.1,297.0 435.5,297.3 433.9,297.6 432.3,297.8 430.6,298.1 429.0,298.4 427.3,298.7 425.7,299.0 424.0,299.2 422.4,299.5 420.7,299.7 419.0,300.0 417.4,300.2 415.7,300.4 414.0,300.7 412.3,300.9 410.6,301.1 408.9,301.3 407.2,301.5 405.5,301.7 403.8,301.9 402.1,302.1 400.4,302.3 398.7,302.5 397.0,302.6 395.2,302.8 393.5,302.9 391.8,303.1 390.0,303.2 388.3,303.4 386.6,303.5 384.8,303.6 383.1,303.7 381.3,303.9 379.6,304.0 377.8,304.1 376.1,304.2 374.3,304.2 372.6,304.3 370.8,304.4 369.1,304.5 367.3,304.5 365.6,304.6 363.8,304.6 362.0,304.7 360.3,304.7 358.5,304.7 356.8,304.8 355.0,304.8 353.2,304.8 351.5,304.8 349.7,304.8 347.9,304.8 346.2,304.8 344.4,304.8 342.6,304.7 340.9,304.7 339.1,304.7 337.4,304.6 335.6,304.6 333.8,304.5 332.1,304.5 330.3,304.4 328.6,304.3 326.8,304.2 325.1,304.1 323.3,304.0 321.6,303.9 319.8,303.8 318.1,303.7 316.4,303.6 314.6,303.5 312.9,303.3 311.1,303.2 309.4,303.1 307.7,302.9 306.0,302.8 304.2,302.6 302.5,302.4 300.8,302.2 299.1,302.1 297.4,301.9 295.7,301.7 294.0,301.5 292.3,301.3 290.6,301.1 288.9,300.9 287.2,300.6 285.6,300.4 283.9,300.2 282.2,299.9 280.6,299.7 278.9,299.4 277.2,299.2 275.6,298.9 273.9,298.6 272.3,298.4 270.7,298.1 269.0,297.8 267.4,297.5 265.8,297.2 264.2,296.9 262.6,296.6 261.0,296.3 259.4,296.0 257.8,295.6 256.2,295.3 254.6,295.0 253.1,294.6 251.5,294.3 250.0,293.9 248.4,293.6 246.9,293.2 245.3,292.8 243.8,292.5 242.3,292.1 240.8,291.7 239.3,291.3 237.8,290.9 236.3,290.5 234.8,290.1 233.3,289.7 231.8,289.3 230.4,288.9 228.9,288.5 227.5,288.0 226.0,287.6 224.6,287.2 223.2,286.7 221.8,286.3 220.4,285.8 219.0,285.4 217.6,284.9 216.2,284.5 214.8,284.0 213.5,283.5 212.1,283.0 210.8,282.6 209.4,282.1 208.1,281.6 206.8,281.1 205.5,280.6 204.2,280.1 202.9,279.6 201.6,279.1 200.3,278.6 199.1,278.0 197.8,277.5 196.6,277.0 195.3,276.5 194.1,275.9 192.9,275.4 191.7,274.9 190.5,274.3 189.3,273.8 188.1,273.2 186.9,272.7 185.8,272.1 184.6,271.6 183.5,271.0 182.4,270.4 181.3,269.9 180.1,269.3 179.0,268.7 178.0,268.1 176.9,267.5 175.8,267.0 174.8,266.4 173.7,265.8 172.7,265.2 171.6,264.6 170.6,264.0 169.6,263.4 168.6,262.8 167.6,262.2 166.7,261.6 165.7,260.9 164.8,260.3 163.8,259.7 162.9,259.1 162.0,258.5 161.0,257.8 160.1,257.2 159.3,256.6 158.4,255.9 157.5,255.3 156.6,254.7 155.8,254.0 155.0,253.4 154.1,252.7 153.3,252.1 152.5,251.5 151.7,250.8 150.9,250.2 150.2,249.5 149.4,248.8 148.7,248.2 147.9,247.5 147.2,246.9 146.5,246.2 145.8,245.6 145.1,244.9 144.4,244.2 143.7,243.6 143.0,242.9 142.4,242.2 141.7,241.6 141.1,240.9 140.5,240.2 139.9,239.5 139.3,238.9 138.7,238.2 138.1,237.5 137.5,236.8 137.0,236.1 136.4,235.5 135.9,234.8 135.4,234.1 134.9,233.4 134.4,232.7 133.9,232.1 133.4,231.4 132.9,230.7 132.4,230.0 132.0,229.3 131.6,228.6 131.1,227.9 130.7,227.2 130.3,226.6 129.9,225.9 129.5,225.2 129.1,224.5 128.8,223.8 128.4,223.1 128.1,222.4 127.7,221.7 127.4,221.0 127.1,220.3 126.8,219.7 126.5,219.0 126.2,218.3 125.9,217.6 125.7,216.9 125.4,216.2 125.2,215.5 124.9,214.8 124.7,214.1 124.5,213.4 124.3,212.8 124.1,212.1 123.9,211.4 123.7,210.7 123.6,210.0 123.4,209.3 123.3,208.6 123.1,207.9 123.0,207.2 122.9,206.6 122.8,205.9 122.7,205.2 122.6,204.5 122.5,203.8 122.5,203.1 122.4,202.5 122.4,201.8 122.3,201.1 122.3,200.4 122.3,199.7 122.3,199.1 122.3,198.4 122.3,197.7 122.3,197.0 122.3,196.4 122.3,195.7 122.4,195.0 122.4,194.3 122.5,193.7 122.6,193.0 122.7,192.3 122.8,191.7 122.9,191.0" fill="none" stroke="url(#rimg)" stroke-width="2.2" filter="url(#b06)"/>
<polyline points="453.9,298.0 452.4,298.4 450.9,298.7 449.4,299.0 447.9,299.4 446.3,299.7 444.8,300.0 443.3,300.3 441.7,300.7 440.1,301.0 438.6,301.3 437.0,301.6 435.4,301.9 433.9,302.2 432.3,302.4 430.7,302.7 429.1,303.0 427.5,303.3 425.9,303.5 424.3,303.8 422.7,304.0 421.1,304.3 419.4,304.5 417.8,304.7 416.2,305.0 414.5,305.2 412.9,305.4 411.3,305.6 409.6,305.8 408.0,306.0 406.3,306.2 404.7,306.4 403.0,306.6 401.3,306.8 399.7,307.0 398.0,307.1 396.3,307.3 394.6,307.4 393.0,307.6 391.3,307.7 389.6,307.9 387.9,308.0 386.2,308.1 384.5,308.2 382.8,308.4 381.1,308.5 379.4,308.6 377.7,308.7 376.0,308.8 374.3,308.8 372.6,308.9 370.9,309.0 369.2,309.1 367.5,309.1 365.8,309.2 364.1,309.2 362.4,309.3 360.7,309.3 358.9,309.3 357.2,309.4 355.5,309.4 353.8,309.4 352.1,309.4 350.4,309.4 348.7,309.4 346.9,309.4 345.2,309.4 343.5,309.4 341.8,309.3 340.1,309.3 338.4,309.3 336.7,309.2 335.0,309.2 333.3,309.1 331.5,309.0 329.8,309.0 328.1,308.9 326.4,308.8 324.7,308.7 323.0,308.6 321.3,308.5 319.6,308.4 317.9,308.3 316.3,308.2 314.6,308.1 312.9,307.9 311.2,307.8 309.5,307.7 307.8,307.5 306.2,307.4 304.5,307.2 302.8,307.0 301.2,306.9 299.5,306.7 297.8,306.5 296.2,306.3 294.5,306.1 292.9,305.9 291.2,305.7 289.6,305.5 287.9,305.3 286.3,305.1 284.7,304.9 283.1,304.6 281.4,304.4 279.8,304.2 278.2,303.9 276.6,303.7 275.0,303.4 273.4,303.1 271.8,302.9 270.2,302.6 268.6,302.3 267.1,302.0 265.5,301.7 263.9,301.5 262.4,301.2 260.8,300.8 259.3,300.5 257.7,300.2 256.2,299.9 254.7,299.6 253.1,299.2 251.6,298.9 250.1,298.6 248.6,298.2 247.1,297.9 245.6,297.5 244.1,297.1 242.6,296.8 241.2,296.4 239.7,296.0 238.2,295.7 236.8,295.3 235.3,294.9 233.9,294.5 232.5,294.1 231.0,293.7 229.6,293.3 228.2,292.9 226.8,292.4 225.4,292.0 224.0,291.6 222.6,291.2 221.3,290.7 219.9,290.3 218.6,289.8 217.2,289.4 215.9,288.9 214.5,288.5 213.2,288.0 211.9,287.6 210.6,287.1 209.3,286.6 208.0,286.2 206.7,285.7 205.5,285.2 204.2,284.7 202.9,284.2 201.7,283.7 200.5,283.2 199.2,282.7 198.0,282.2 196.8,281.7 195.6,281.2 194.4,280.7 193.2,280.2 192.0,279.6 190.9,279.1 189.7,278.6 188.6,278.0 187.4,277.5 186.3,277.0 185.2,276.4 184.1,275.9 183.0,275.3 181.9,274.8 180.8,274.2 179.7,273.7 178.6,273.1 177.6,272.5 176.6,272.0 175.5,271.4 174.5,270.8 173.5,270.2 172.5,269.7 171.5,269.1 170.5,268.5 169.5,267.9 168.5,267.3 167.6,266.7 166.6,266.1 165.7,265.5 164.8,264.9 163.9,264.3 163.0,263.7 162.1,263.1 161.2,262.5 160.3,261.9 159.4,261.3 158.6,260.7 157.7,260.1 156.9,259.4 156.1,258.8 155.2,258.2 154.4,257.6 153.6,257.0 152.9,256.3 152.1,255.7 151.3,255.1 150.6,254.4 149.8,253.8 149.1,253.2 148.4,252.5 147.6,251.9 146.9,251.2 146.2,250.6 145.6,250.0 144.9,249.3 144.2,248.7 143.6,248.0 142.9,247.4 142.3,246.7 141.7,246.1 141.0,245.4 140.4,244.8 139.8,244.1 139.3,243.4 138.7,242.8 138.1,242.1 137.6,241.5 137.0,240.8 136.5,240.1 136.0,239.5 135.5,238.8 135.0,238.2 134.5,237.5 134.0,236.8 133.5,236.2 133.1,235.5 132.6,234.8 132.2,234.2 131.7,233.5 131.3,232.8 130.9,232.2 130.5,231.5 130.1,230.8 129.7,230.2 129.3,229.5 129.0,228.8 128.6,228.1 128.3,227.5 128.0,226.8 127.6,226.1 127.3,225.5 127.0,224.8 126.7,224.1 126.4,223.4 126.2,222.8 125.9,222.1 125.6,221.4 125.4,220.8 125.2,220.1 124.9,219.4 124.7,218.7 124.5,218.1 124.3,217.4 124.1,216.7 123.9,216.1 123.8,215.4 123.6,214.7 123.4,214.1 123.3,213.4 123.2,212.7 123.0,212.1 122.9,211.4 122.8,210.7 122.7,210.1 122.6,209.4 122.6,208.7 122.5,208.1 122.4,207.4 122.4,206.7 122.3,206.1 122.3,205.4 122.3,204.8 122.3,204.1 122.3,203.4 122.3,202.8 122.3,202.1 122.3,201.5 122.3,200.8 122.4,200.2 122.4,199.5 122.5,198.8 122.5,198.2 122.6,197.5 122.7,196.9 122.8,196.2 122.9,195.6" fill="none" stroke="#fff" stroke-opacity="0.10" stroke-width="5" filter="url(#b1)"/>
<polyline points="576.6,179.4 576.8,180.0 577.0,180.6 577.2,181.1 577.4,181.7 577.5,182.2 577.7,182.8 577.9,183.3 578.0,183.9 578.2,184.5 578.3,185.0 578.5,185.6 578.6,186.2 578.7,186.7 578.9,187.3 579.0,187.9 579.1,188.4 579.2,189.0 579.3,189.6 579.4,190.2 579.5,190.7 579.6,191.3 579.6,191.9 579.7,192.5 579.7,193.0 579.8,193.6 579.8,194.2 579.9,194.8 579.9,195.3 579.9,195.9 580.0,196.5 580.0,197.1 580.0,197.7 580.0,198.3 580.0,198.8 579.9,199.4 579.9,200.0 579.9,200.6 579.8,201.2 579.8,201.8 579.8,202.4 579.7,202.9 579.6,203.5 579.6,204.1 579.5,204.7 579.4,205.3 579.3,205.9 579.2,206.5 579.1,207.1 579.0,207.7 578.8,208.3 578.7,208.8 578.6,209.4 578.4,210.0 578.3,210.6 578.1,211.2 577.9,211.8 577.8,212.4 577.6,213.0 577.4,213.6 577.2,214.2 577.0,214.8 576.8,215.4 576.6,216.0 576.3,216.6 576.1,217.2 575.9,217.8 575.6,218.4 575.4,218.9 575.1,219.5 574.8,220.1 574.5,220.7 574.3,221.3 574.0,221.9 573.7,222.5 573.3,223.1 573.0,223.7 572.7,224.3 572.4,224.9 572.0,225.5 571.7,226.1 571.3,226.7 571.0,227.3 570.6,227.9 570.2,228.4 569.8,229.0 569.4,229.6 569.0,230.2 568.6,230.8 568.2,231.4 567.8,232.0 567.3,232.6 566.9,233.2 566.4,233.8 566.0,234.3 565.5,234.9 565.0,235.5 564.5,236.1 564.1,236.7 563.6,237.3 563.1,237.8 562.5,238.4 562.0,239.0 561.5,239.6 560.9,240.2 560.4,240.7 559.8,241.3 559.3,241.9 558.7,242.5 558.1,243.1 557.6,243.6 557.0,244.2 556.4,244.8 555.7,245.3 555.1,245.9 554.5,246.5 553.9,247.0 553.2,247.6 552.6,248.2 551.9,248.7 551.3,249.3 550.6,249.9 549.9,250.4 549.2,251.0 548.5,251.5 547.8,252.1 547.1,252.6 546.4,253.2 545.7,253.7 544.9,254.3 544.2,254.8 543.4,255.4 542.7,255.9 541.9,256.5 541.1,257.0 540.3,257.6 539.5,258.1 538.7,258.6 537.9,259.2 537.1,259.7 536.3,260.2 535.5,260.8 534.6,261.3 533.8,261.8 532.9,262.3 532.1,262.8 531.2,263.4 530.3,263.9 529.4,264.4 528.5,264.9 527.6,265.4 526.7,265.9 525.8,266.4 524.9,266.9 524.0,267.4 523.0,267.9 522.1,268.4 521.1,268.9 520.2,269.4 519.2,269.9 518.2,270.4 517.3,270.9 516.3,271.4 515.3,271.8 514.3,272.3 513.3,272.8 512.2,273.3 511.2,273.7 510.2,274.2 509.2,274.7 508.1,275.1 507.1,275.6 506.0,276.0 504.9,276.5 503.9,277.0 502.8,277.4 501.7,277.8 500.6,278.3 499.5,278.7 498.4,279.2 497.3,279.6 496.1,280.0 495.0,280.5 493.9,280.9 492.7,281.3 491.6,281.7 490.4,282.1 489.3,282.5 488.1,283.0 486.9,283.4 485.8,283.8 484.6,284.2 483.4,284.6 482.2,285.0 481.0,285.3 479.8,285.7 478.6,286.1 477.3,286.5 476.1,286.9 474.9,287.2" fill="none" stroke="url(#dkg)" stroke-width="5.5" filter="url(#b2)"/>
<polyline points="578.5,240.1 578.4,241.2 578.3,242.3 578.2,243.4 578.0,244.5 577.9,245.6 577.7,246.7 577.5,247.8 577.2,248.9 577.0,250.0 576.7,251.1 576.4,252.2 576.1,253.3 575.8,254.4 575.4,255.5 575.0,256.6 574.7,257.7 574.2,258.8 573.8,259.9 573.3,261.0 572.9,262.1 572.4,263.2 571.8,264.3 571.3,265.4 570.7,266.5 570.1,267.6 569.5,268.7 568.9,269.8 568.2,270.9 567.5,272.0 566.8,273.1 566.1,274.2 565.4,275.3 564.6,276.4 563.8,277.4 563.0,278.5 562.2,279.6 561.3,280.7 560.5,281.8 559.6,282.8 558.6,283.9 557.7,285.0 556.7,286.0 555.7,287.1 554.7,288.1 553.7,289.2 552.6,290.2 551.5,291.3 550.4,292.3 549.3,293.4 548.2,294.4 547.0,295.4 545.8,296.4 544.6,297.5 543.4,298.5 542.1,299.5 540.8,300.5 539.5,301.5 538.2,302.5 536.9,303.5 535.5,304.4 534.1,305.4 532.7,306.4 531.3,307.3 529.8,308.3 528.3,309.3 526.8,310.2 525.3,311.1 523.8,312.1 522.2,313.0 520.7,313.9 519.0,314.8 517.4,315.7 515.8,316.6 514.1,317.5 512.4,318.4 510.7,319.2 509.0,320.1 507.3,320.9 505.5,321.8 503.7,322.6 501.9,323.4 500.1,324.2 498.2,325.0 496.4,325.8 494.5,326.6 492.6,327.4 490.7,328.2 488.8,328.9 486.8,329.7 484.8,330.4 482.8,331.2 480.8,331.9 478.8,332.6 476.8,333.3 474.7,334.0 472.6,334.6 470.6,335.3 468.5,335.9 466.3,336.6 464.2,337.2 462.0,337.8 459.9,338.4 457.7,339.0 455.5,339.6 453.3,340.2 451.1,340.7 448.8,341.3 446.6,341.8 444.3,342.4 442.0,342.9 439.7,343.4 437.4,343.8 435.1,344.3 432.8,344.8 430.4,345.2 428.1,345.6 425.7,346.1 423.4,346.5 421.0,346.9 418.6,347.2 416.2,347.6 413.8,348.0 411.4,348.3 408.9,348.6 406.5,348.9 404.1,349.2 401.6,349.5 399.2,349.8 396.7,350.0 394.2,350.3 391.7,350.5 389.3,350.7 386.8,350.9 384.3,351.1 381.8,351.3 379.3,351.4 376.8,351.6 374.3,351.7 371.7,351.8 369.2,351.9 366.7,352.0 364.2,352.1 361.7,352.1 359.1,352.2 356.6,352.2 354.1,352.2 351.6,352.2 349.0,352.2 346.5,352.2 344.0,352.1 341.4,352.1 338.9,352.0 336.4,351.9 333.9,351.8 331.4,351.7 328.9,351.5 326.3,351.4 323.8,351.2 321.3,351.1 318.8,350.9 316.3,350.7 313.8,350.4 311.4,350.2 308.9,350.0 306.4,349.7 303.9,349.4 301.5,349.1 299.0,348.8 296.6,348.5 294.1,348.2 291.7,347.9 289.3,347.5 286.9,347.1 284.5,346.7 282.1,346.3 279.7,345.9 277.3,345.5 275.0,345.1 272.6,344.6 270.3,344.2 267.9,343.7 265.6,343.2 263.3,342.7 261.0,342.2 258.7,341.7 256.5,341.1 254.2,340.6 252.0,340.0 249.7,339.4 247.5,338.9 245.3,338.3 243.1,337.6 241.0,337.0 238.8,336.4 236.7,335.7 234.5,335.1 232.4,334.4 230.3,333.7 228.3,333.1 226.2,332.4 224.1,331.6 222.1,330.9 220.1,330.2 218.1,329.5 216.1,328.7 214.2,327.9 212.2,327.2 210.3,326.4 208.4,325.6 206.5,324.8 204.7,324.0 202.8,323.2 201.0,322.4 199.2,321.5 197.4,320.7 195.6,319.8 193.8,319.0 192.1,318.1 190.4,317.2 188.7,316.3 187.0,315.4 185.4,314.5 183.7,313.6 182.1,312.7 180.5,311.8 179.0,310.9 177.4,309.9 175.9,309.0 174.4,308.0 172.9,307.1 171.4,306.1 170.0,305.1 168.6,304.2 167.2,303.2 165.8,302.2 164.4,301.2 163.1,300.2 161.8,299.2 160.5,298.2 159.2,297.2 158.0,296.2 156.8,295.1 155.6,294.1 154.4,293.1 153.2,292.1 152.1,291.0 151.0,290.0 149.9,288.9 148.8,287.9 147.8,286.8 146.7,285.8 145.7,284.7 144.7,283.6 143.8,282.6 142.8,281.5 141.9,280.4 141.0,279.3 140.2,278.3 139.3,277.2 138.5,276.1 137.7,275.0 136.9,273.9 136.1,272.8 135.4,271.7 134.7,270.6 134.0,269.5 133.3,268.4 132.7,267.4 132.0,266.3 131.4,265.2 130.8,264.1 130.3,263.0 129.7,261.9 129.2,260.7 128.7,259.6 128.2,258.5 127.8,257.4 127.3,256.3 126.9,255.2 126.5,254.1 126.1,253.0 125.8,251.9 125.5,250.8 125.2,249.7 124.9,248.6 124.6,247.5 124.3,246.4 124.1,245.3 123.9,244.2 123.7,243.1 123.5,242.0 123.4,241.0 123.3,239.9 123.2,238.8 123.1,237.7 123.0,236.6 122.9,235.5 122.9,234.4 122.9,233.4" fill="none" stroke="#000" stroke-opacity="0.25" stroke-width="1.2"/>
<polyline points="138.4,161.0 139.6,159.6 141.0,158.1 142.3,156.7 143.7,155.3 145.2,153.9 146.6,152.5 148.2,151.1 149.7,149.7 151.3,148.4 152.9,147.0 154.6,145.7 156.3,144.4 158.1,143.1 159.8,141.8 161.6,140.6 163.5,139.3 165.4,138.1 167.3,136.9 169.2,135.7 171.2,134.5 173.2,133.3 175.2,132.2 177.3,131.0 179.4,129.9 181.5,128.8 183.6,127.7 185.8,126.7 188.0,125.6 190.2,124.6 192.5,123.6 194.7,122.5 197.0,121.6 199.3,120.6 201.7,119.6 204.0,118.7 206.4,117.8 208.8,116.9 211.3,116.0 213.7,115.1 216.2,114.3 218.7,113.4 221.2,112.6 223.7,111.8 226.3,111.0 228.8,110.3 231.4,109.5 234.0,108.8 236.6,108.1 239.2,107.4 241.9,106.7 244.5,106.0 247.2,105.4 249.9,104.8 252.6,104.2 255.3,103.6 258.0,103.0 260.8,102.4 263.5,101.9 266.3,101.4 269.1,100.9 271.8,100.4 274.6,99.9 277.4,99.4 280.3,99.0 283.1,98.6 285.9,98.2 288.7,97.8 291.6,97.4 294.4,97.1 297.3,96.8 300.2,96.4 303.0,96.1 305.9,95.9 308.8,95.6 311.7,95.4 314.6,95.1 317.5,94.9 320.4,94.7 323.3,94.5 326.2,94.4 329.1,94.2 332.1,94.1 335.0,94.0 337.9,93.9 340.8,93.8 343.8,93.8 346.7,93.8 349.6,93.7 352.5,93.7 355.5,93.8 358.4,93.8 361.3,93.8 364.3,93.9 367.2,94.0 370.1,94.1 373.0,94.2 375.9,94.3 378.9,94.5 381.8,94.7 384.7,94.9 387.6,95.1 390.5,95.3 393.4,95.5 396.3,95.8 399.2,96.1 402.0,96.4 404.9,96.7 407.8,97.0 410.6,97.4 413.5,97.7 416.3,98.1 419.2,98.5 422.0,98.9 424.8,99.3 427.6,99.8 430.4,100.3 433.2,100.8 436.0,101.3 438.7,101.8 441.5,102.3 444.2,102.9 447.0,103.4 449.7,104.0 452.4,104.6 455.1,105.3 457.8,105.9 460.4,106.6 463.1,107.3 465.7,108.0 468.4,108.7 471.0,109.4 473.5,110.1 476.1,110.9 478.7,111.7 481.2,112.5 483.7,113.3 486.2,114.1 488.7,115.0 491.1,115.9 493.6,116.8 496.0,117.7 498.4,118.6 500.8,119.5 503.1,120.5 505.4,121.4 507.7,122.4 510.0,123.4 512.3,124.5 514.5,125.5 516.7,126.6 518.9,127.6 521.0,128.7 523.2,129.8 525.2,130.9 527.3,132.1 529.3,133.2 531.4,134.4 533.3,135.6 535.3,136.8 537.2,138.0 539.1,139.3 540.9,140.5 542.7,141.8 544.5,143.1 546.2,144.4 547.9,145.7 549.6,147.0 551.3,148.4 552.8,149.7 554.4,151.1 555.9,152.5 557.4,153.9 558.8,155.3 560.2,156.7 561.6,158.2 562.9,159.6 564.2,161.1 565.4,162.6 566.6,164.1 567.7,165.6 568.8,167.1 569.9,168.7 570.9,170.2 571.8,171.8 572.7,173.4 573.6,174.9 574.4,176.5 575.1,178.1 575.8,179.8 576.5,181.4 577.1,183.0 577.6,184.7 578.1,186.3 578.5,188.0 578.9,189.7 579.2,191.4 579.5,193.0 579.7,194.7 579.8,196.4" fill="none" stroke="#1a1040" stroke-opacity="0.5" stroke-width="0.8"/>
</svg>
<div class="t" style="left:200.79px;top:57.51px;color:#191a6c;transform:scale(0.4131,0.3967)">Altele</div><div class="t" style="left:207.74px;top:80.83px;color:#191a6c;transform:scale(0.3868,0.4286)">16%</div><div class="t" style="left:452.60px;top:58.01px;color:#4a70c4;transform:scale(0.3988,0.3967)">Romania</div><div class="t" style="left:470.62px;top:80.43px;color:#4a70c4;transform:scale(0.3921,0.4286)">16%</div><div class="t" style="left:583.54px;top:142.91px;color:#d8563a;transform:scale(0.3804,0.3967)">Cehia</div><div class="t" style="left:587.75px;top:165.83px;color:#d8563a;transform:scale(0.4171,0.4286)">13%</div><div class="t" style="left:557.62px;top:296.81px;color:#8e889c;transform:scale(0.3944,0.3967)">Polonia</div><div class="t" style="left:570.77px;top:319.93px;color:#8e889c;transform:scale(0.4105,0.4286)">13%</div><div class="t" style="left:400.61px;top:367.41px;color:#f0b428;transform:scale(0.3968,0.3967)">Federatia Rusa</div><div class="t" style="left:441.61px;top:390.03px;color:#f0b428;transform:scale(0.3961,0.4286)">10%</div><div class="t" style="left:196.56px;top:356.81px;color:#2c40a8;transform:scale(0.3725,0.3967)">China</div><div class="t" style="left:206.02px;top:379.03px;color:#2c40a8;transform:scale(0.3821,0.4286)">8%</div><div class="t" style="left:90.62px;top:302.51px;color:#68a050;transform:scale(0.3910,0.3967)">Ucraina</div><div class="t" style="left:108.42px;top:325.43px;color:#68a050;transform:scale(0.3891,0.4286)">7%</div><div class="t" style="left:55.72px;top:247.41px;color:#1e367a;transform:scale(0.3930,0.3967)">Belarus</div><div class="t" style="left:72.70px;top:270.43px;color:#1e367a;transform:scale(0.4018,0.4286)">6%</div><div class="t" style="left:17.32px;top:164.51px;color:#981c26;transform:scale(0.3918,0.3967)">Kazahstan</div><div class="t" style="left:45.30px;top:187.03px;color:#981c26;transform:scale(0.4018,0.4286)">5%</div><div class="t" style="left:48.02px;top:120.91px;color:#463c6c;transform:scale(0.3902,0.3967)">Canada</div><div class="t" style="left:64.90px;top:143.43px;color:#463c6c;transform:scale(0.4000,0.4286)">3%</div><div class="t" style="left:79.72px;top:85.21px;color:#9a6028;transform:scale(0.3784,0.3967)">Slovacia</div><div class="t" style="left:99.10px;top:107.23px;color:#9a6028;transform:scale(0.3964,0.4286)">3%</div><div class="t ti" style="left:100.40px;top:21.56px;transform:scale(0.4019,0.4571)">COTA</div><div class="t ti" style="left:149.18px;top:21.56px;transform:scale(0.4052,0.4571)">EXPORTULUI</div><div class="t ti" style="left:259.80px;top:21.56px;transform:scale(0.4000,0.4571)">DUPĂ</div><div class="t ti" style="left:311.50px;top:21.56px;transform:scale(0.4472,0.4571)">VOLUM</div><div class="t ti" style="left:382.50px;top:21.56px;transform:scale(0.4188,0.4571)">TOP-10</div><div class="t ti" style="left:447.00px;top:21.56px;transform:scale(0.3451,0.4571)">ȚĂRI,</div><div class="t ti" style="left:487.83px;top:21.56px;transform:scale(0.4713,0.4571)">SEM.</div><div class="t ti" style="left:540.00px;top:21.56px;transform:scale(0.5000,0.4571)">-</div><div class="t ti" style="left:550.25px;top:21.56px;transform:scale(0.4167,0.4571)">I</div><div class="t ti" style="left:560.94px;top:21.56px;transform:scale(0.4581,0.4571)">2020</div>
</div>
</body></html>
